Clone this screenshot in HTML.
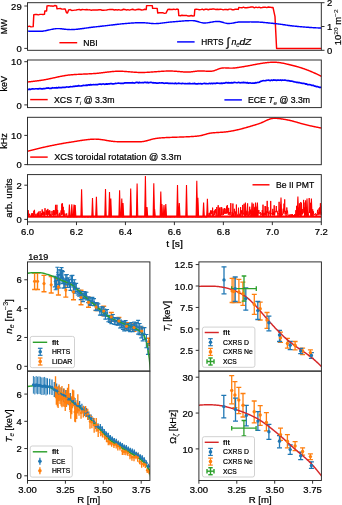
<!DOCTYPE html>
<html><head><meta charset="utf-8"><style>
html,body{margin:0;padding:0;background:#fff;}
svg{display:block;will-change:transform;filter:blur(0.3px);}
text{font-family:"Liberation Sans",sans-serif;fill:#000;stroke:#000;stroke-width:0.22px;}
</style></head><body>
<svg width="342" height="505" viewBox="0 0 342 505">
<rect x="0" y="0" width="342" height="505" fill="#fff"/>
<clipPath id="c1"><rect x="27.5" y="2.7" width="293.8" height="47.6"/></clipPath>
<g clip-path="url(#c1)">
<path d="M27.5,26.6 L29.5,26.2 L31,26.9 L33.2,26.6 L33.8,14.6 L35.33,14.51 L36.86,14.57 L38.39,14.85 L39.91,14.4 L41.44,14.39 L42.97,14.42 L44.5,14.3 L44.8,11 L46.6,11 L47,5.9 L48.6,5.62 L50.2,5.91 L51.8,6.02 L53.4,6.16 L55,5.53 L56.6,5.9 L57,8.8 L58.64,8.64 L60.28,8.47 L61.92,9.14 L63.56,9.05 L65.2,8.9 L66.5,12.8 L67.5,13 L68.6,10 L70.12,9.58 L71.64,10.42 L73.16,10.39 L74.69,10.11 L76.21,10.06 L77.73,9.64 L79.25,9.51 L80.77,9.96 L82.29,9.53 L83.82,9.64 L85.34,9.68 L86.86,9.48 L88.38,9.87 L89.9,9.84 L91.42,10.19 L92.95,9.89 L94.47,9.99 L95.99,9.86 L97.51,10 L99.03,9.8 L100.55,9.64 L102.07,10.28 L103.6,10.27 L105.12,10.12 L106.64,9.99 L108.16,9.63 L109.68,9.54 L111.2,9.59 L112.73,9.39 L114.25,10 L115.77,9.67 L117.29,10.06 L118.81,9.64 L120.33,10.15 L121.85,10.04 L123.38,9.27 L124.9,9.45 L126.42,10.07 L127.94,9.67 L129.46,10.12 L130.98,9.59 L132.51,9.29 L134.03,9.78 L135.55,9.91 L137.07,9.44 L138.59,9.27 L140.11,9.48 L141.64,10.04 L143.16,9.85 L144.68,9.26 L146.2,9.6 L146.6,5.6 L152.3,5.6 L152.6,8.3 L157.2,8.4 L157.7,13 L159.36,12.79 L161.02,12.68 L162.68,12.66 L164.34,13.35 L166,13.1 L167.8,9.5 L169.3,9.2 L170.8,9.52 L172.3,9.41 L173.8,9.16 L175.3,9.64 L176.8,9.08 L178.3,9.4 L178.8,15.6 L180.35,15.74 L181.9,15.27 L183.45,15.56 L185,15.38 L186.55,15.44 L188.1,16.08 L189.65,15.94 L191.2,15.5 L192.75,16.04 L194.3,15.7 L194.8,9.5 L196.3,9.24 L197.8,9.4 L199.3,9.81 L200.8,9.61 L202.3,9.12 L203.8,9.92 L205.3,9.22 L206.8,9.25 L208.3,9.71 L209.8,9.31 L211.3,9.28 L212.8,9.07 L214.3,9.09 L215.8,9.53 L217.3,9.22 L218.8,9.54 L220.3,9.33 L221.8,9.4 L223.3,9.85 L224.8,9.42 L226.3,9.49 L227.8,9.75 L229.3,9.14 L230.8,9.11 L232.3,9.78 L233.8,9.7 L235.3,9.18 L236.8,9.12 L238.3,9.4 L238.8,7.4 L240.35,7.62 L241.91,7.8 L243.46,7.13 L245.02,7.81 L246.57,7.74 L248.13,7.49 L249.68,7.33 L251.24,7.04 L252.79,6.98 L254.35,7.82 L255.9,7.16 L257.45,7.58 L259.01,7.18 L260.56,7.69 L262.12,7.49 L263.67,7.21 L265.23,7.11 L266.78,7.6 L268.34,7.01 L269.89,7.16 L271.45,7.45 L273,7.4 L275,16.7 L276.6,48.5 L322,48.5" fill="none" stroke="#ff0000" stroke-width="1.45" stroke-linejoin="round" stroke-linecap="butt" />
<path d="M27.5,31.1 L28.5,31.14 L29.5,31.18 L30.5,31.21 L31.5,31.24 L32.5,31.26 L33.5,31.27 L34.5,31.28 L35.5,31.29 L36.5,31.3 L37.5,31.3 L38.5,31.3 L39.5,31.3 L40.5,31.29 L41.5,31.25 L42.5,31.16 L43.5,31.03 L44.5,30.88 L45.5,30.7 L46.5,30.5 L47.5,30.28 L48.5,30.06 L49.5,29.84 L50.5,29.62 L51.5,29.4 L52.5,29.2 L53.5,29.02 L54.5,28.87 L55.5,28.74 L56.5,28.65 L57.5,28.61 L58.5,28.61 L59.5,28.64 L60.5,28.71 L61.5,28.81 L62.5,28.92 L63.5,29.04 L64.5,29.16 L65.5,29.28 L66.5,29.39 L67.5,29.49 L68.5,29.56 L69.5,29.59 L70.5,29.6 L71.5,29.58 L72.5,29.55 L73.5,29.5 L74.5,29.43 L75.5,29.36 L76.5,29.27 L77.5,29.17 L78.5,29.06 L79.5,28.95 L80.5,28.82 L81.5,28.69 L82.5,28.56 L83.5,28.42 L84.5,28.28 L85.5,28.13 L86.5,27.99 L87.5,27.85 L88.5,27.7 L89.5,27.56 L90.5,27.43 L91.5,27.3 L92.5,27.18 L93.5,27.06 L94.5,26.95 L95.5,26.85 L96.5,26.75 L97.5,26.64 L98.5,26.54 L99.5,26.43 L100.5,26.32 L101.5,26.2 L102.5,26.09 L103.5,25.97 L104.5,25.86 L105.5,25.74 L106.5,25.62 L107.5,25.5 L108.5,25.38 L109.5,25.26 L110.5,25.14 L111.5,25.02 L112.5,24.91 L113.5,24.79 L114.5,24.67 L115.5,24.56 L116.5,24.44 L117.5,24.33 L118.5,24.22 L119.5,24.11 L120.5,24.01 L121.5,23.9 L122.5,23.8 L123.5,23.7 L124.5,23.61 L125.5,23.52 L126.5,23.43 L127.5,23.35 L128.5,23.27 L129.5,23.19 L130.5,23.12 L131.5,23.06 L132.5,22.99 L133.5,22.94 L134.5,22.89 L135.5,22.84 L136.5,22.8 L137.5,22.77 L138.5,22.74 L139.5,22.72 L140.5,22.71 L141.5,22.7 L142.5,22.7 L143.5,22.73 L144.5,22.79 L145.5,22.86 L146.5,22.95 L147.5,23.05 L148.5,23.15 L149.5,23.25 L150.5,23.35 L151.5,23.44 L152.5,23.51 L153.5,23.57 L154.5,23.6 L155.5,23.6 L156.5,23.57 L157.5,23.52 L158.5,23.44 L159.5,23.35 L160.5,23.25 L161.5,23.13 L162.5,23 L163.5,22.87 L164.5,22.74 L165.5,22.6 L166.5,22.47 L167.5,22.35 L168.5,22.24 L169.5,22.14 L170.5,22.06 L171.5,21.97 L172.5,21.89 L173.5,21.8 L174.5,21.71 L175.5,21.62 L176.5,21.53 L177.5,21.44 L178.5,21.35 L179.5,21.26 L180.5,21.18 L181.5,21.1 L182.5,21.02 L183.5,20.95 L184.5,20.88 L185.5,20.82 L186.5,20.76 L187.5,20.72 L188.5,20.67 L189.5,20.64 L190.5,20.62 L191.5,20.6 L192.5,20.6 L193.5,20.66 L194.5,20.79 L195.5,20.99 L196.5,21.24 L197.5,21.52 L198.5,21.81 L199.5,22.11 L200.5,22.39 L201.5,22.63 L202.5,22.82 L203.5,22.95 L204.5,23 L205.5,22.97 L206.5,22.9 L207.5,22.79 L208.5,22.64 L209.5,22.48 L210.5,22.3 L211.5,22.12 L212.5,21.94 L213.5,21.77 L214.5,21.63 L215.5,21.51 L216.5,21.43 L217.5,21.4 L218.5,21.44 L219.5,21.57 L220.5,21.76 L221.5,22 L222.5,22.28 L223.5,22.56 L224.5,22.84 L225.5,23.09 L226.5,23.3 L227.5,23.44 L228.5,23.5 L229.5,23.47 L230.5,23.39 L231.5,23.27 L232.5,23.11 L233.5,22.92 L234.5,22.73 L235.5,22.54 L236.5,22.36 L237.5,22.21 L238.5,22.09 L239.5,22.02 L240.5,21.99 L241.5,21.98 L242.5,21.97 L243.5,21.96 L244.5,21.95 L245.5,21.94 L246.5,21.93 L247.5,21.92 L248.5,21.91 L249.5,21.91 L250.5,21.9 L251.5,21.9 L252.5,21.9 L253.5,21.9 L254.5,21.91 L255.5,21.93 L256.5,21.96 L257.5,22 L258.5,22.05 L259.5,22.11 L260.5,22.18 L261.5,22.25 L262.5,22.33 L263.5,22.42 L264.5,22.51 L265.5,22.61 L266.5,22.71 L267.5,22.81 L268.5,22.92 L269.5,23.02 L270.5,23.13 L271.5,23.24 L272.5,23.34 L273.5,23.45 L274.5,23.55 L275.5,23.65 L276.5,23.76 L277.5,23.87 L278.5,24 L279.5,24.13 L280.5,24.26 L281.5,24.4 L282.5,24.55 L283.5,24.69 L284.5,24.84 L285.5,24.99 L286.5,25.13 L287.5,25.28 L288.5,25.42 L289.5,25.56 L290.5,25.69 L291.5,25.82 L292.5,25.94 L293.5,26.05 L294.5,26.15 L295.5,26.25 L296.5,26.34 L297.5,26.43 L298.5,26.52 L299.5,26.61 L300.5,26.7 L301.5,26.78 L302.5,26.87 L303.5,26.95 L304.5,27.03 L305.5,27.11 L306.5,27.19 L307.5,27.27 L308.5,27.34 L309.5,27.41 L310.5,27.48 L311.5,27.55 L312.5,27.62 L313.5,27.68 L314.5,27.74 L315.5,27.8 L316.5,27.85 L317.5,27.9 L318.5,27.95 L319.5,28 L320.5,28.04 L321.5,28.08" fill="none" stroke="#0000ff" stroke-width="1.45" stroke-linejoin="round" stroke-linecap="butt" />
</g>
<rect x="27.5" y="2.7" width="293.8" height="47.6" fill="none" stroke="#262626" stroke-width="0.95"/>
<line x1="24.3" y1="6" x2="27.5" y2="6" stroke="#262626" stroke-width="0.95"/>
<text x="21.7" y="9.6" font-size="8.8" text-anchor="end" textLength="10.56" lengthAdjust="spacingAndGlyphs" >29</text>
<line x1="24.3" y1="48.4" x2="27.5" y2="48.4" stroke="#262626" stroke-width="0.95"/>
<text x="21.7" y="52" font-size="8.8" text-anchor="end" textLength="5.28" lengthAdjust="spacingAndGlyphs" >0</text>
<line x1="321.3" y1="2.7" x2="324.5" y2="2.7" stroke="#262626" stroke-width="0.95"/>
<text x="327.1" y="6.3" font-size="8.8" text-anchor="start" textLength="5.28" lengthAdjust="spacingAndGlyphs" >2</text>
<line x1="321.3" y1="26.5" x2="324.5" y2="26.5" stroke="#262626" stroke-width="0.95"/>
<text x="327.1" y="30.1" font-size="8.8" text-anchor="start" textLength="5.28" lengthAdjust="spacingAndGlyphs" >1</text>
<line x1="321.3" y1="50.3" x2="324.5" y2="50.3" stroke="#262626" stroke-width="0.95"/>
<text x="327.1" y="53.9" font-size="8.8" text-anchor="start" textLength="5.28" lengthAdjust="spacingAndGlyphs" >0</text>
<line x1="59.4" y1="42.7" x2="77.2" y2="42.7" stroke="#ff0000" stroke-width="1.45"/>
<text x="83.3" y="46.1" font-size="8.8" text-anchor="start" textLength="14.35" lengthAdjust="spacingAndGlyphs" >NBI</text>
<line x1="177.1" y1="41.9" x2="194.6" y2="41.9" stroke="#0000ff" stroke-width="1.45"/>
<text x="201.2" y="45.2" font-size="8.8" text-anchor="start" textLength="22.35" lengthAdjust="spacingAndGlyphs" >HRTS</text>
<text x="226.6" y="46.4" font-size="11.5" font-style="italic">&#8747;</text>
<text x="231.4" y="45.2" font-size="8.8" font-style="italic">n</text>
<text x="236.2" y="47.2" font-size="6.4" font-style="italic" style="stroke-width:0.05px">e</text>
<text x="239.4" y="45.2" font-size="8.8" font-style="italic" textLength="12" lengthAdjust="spacingAndGlyphs">dZ</text>
<text transform="translate(341.4,27.2) rotate(-90)" x="0" y="0" font-size="8.8" text-anchor="middle" textLength="36" lengthAdjust="spacingAndGlyphs">10<tspan style="stroke-width:0.06px" font-size="6.2" dy="-3.2">20</tspan><tspan dy="3.2"> m</tspan><tspan style="stroke-width:0.06px" font-size="6.2" dy="-3.2">&#8722;2</tspan></text>
<text transform="translate(6.6,26.5) rotate(-90)" x="0" y="0" font-size="8.8" text-anchor="middle" textLength="15.37" lengthAdjust="spacingAndGlyphs">MW</text>
<clipPath id="c2"><rect x="27.5" y="60.0" width="293.8" height="47.6"/></clipPath>
<g clip-path="url(#c2)">
<path d="M27.5,82 L28,81.95 L28.5,81.89 L29,81.84 L29.5,81.79 L30,81.73 L30.5,81.68 L31,81.62 L31.5,81.56 L32,81.51 L32.5,81.45 L33,81.39 L33.5,81.33 L34,81.27 L34.5,81.21 L35,81.15 L35.5,81.09 L36,81.02 L36.5,80.96 L37,80.9 L37.5,80.83 L38,80.76 L38.5,80.7 L39,80.63 L39.5,80.56 L40,80.49 L40.5,80.42 L41,80.34 L41.5,80.27 L42,80.19 L42.5,80.12 L43,80.03 L43.5,79.95 L44,79.87 L44.5,79.78 L45,79.69 L45.5,79.6 L46,79.5 L46.5,79.41 L47,79.31 L47.5,79.21 L48,79.11 L48.5,79.01 L49,78.9 L49.5,78.8 L50,78.69 L50.5,78.58 L51,78.48 L51.5,78.37 L52,78.26 L52.5,78.15 L53,78.04 L53.5,77.92 L54,77.81 L54.5,77.7 L55,77.59 L55.5,77.48 L56,77.37 L56.5,77.26 L57,77.15 L57.5,77.04 L58,76.93 L58.5,76.83 L59,76.72 L59.5,76.62 L60,76.51 L60.5,76.41 L61,76.31 L61.5,76.21 L62,76.12 L62.5,76.02 L63,75.93 L63.5,75.84 L64,75.75 L64.5,75.67 L65,75.58 L65.5,75.5 L66,75.42 L66.5,75.35 L67,75.28 L67.5,75.21 L68,75.15 L68.5,75.08 L69,75.02 L69.5,74.97 L70,74.92 L70.5,74.87 L71,74.82 L71.5,74.78 L72,74.74 L72.5,74.7 L73,74.66 L73.5,74.62 L74,74.59 L74.5,74.55 L75,74.52 L75.5,74.49 L76,74.46 L76.5,74.43 L77,74.4 L77.5,74.38 L78,74.35 L78.5,74.32 L79,74.3 L79.5,74.27 L80,74.25 L80.5,74.23 L81,74.2 L81.5,74.18 L82,74.16 L82.5,74.13 L83,74.11 L83.5,74.09 L84,74.07 L84.5,74.05 L85,74.02 L85.5,74 L86,73.98 L86.5,73.96 L87,73.93 L87.5,73.91 L88,73.89 L88.5,73.86 L89,73.84 L89.5,73.82 L90,73.79 L90.5,73.76 L91,73.74 L91.5,73.71 L92,73.68 L92.5,73.65 L93,73.62 L93.5,73.59 L94,73.56 L94.5,73.52 L95,73.48 L95.5,73.45 L96,73.41 L96.5,73.36 L97,73.32 L97.5,73.27 L98,73.23 L98.5,73.18 L99,73.12 L99.5,73.07 L100,73.01 L100.5,72.96 L101,72.9 L101.5,72.84 L102,72.78 L102.5,72.72 L103,72.65 L103.5,72.59 L104,72.53 L104.5,72.46 L105,72.4 L105.5,72.34 L106,72.27 L106.5,72.21 L107,72.15 L107.5,72.09 L108,72.03 L108.5,71.97 L109,71.91 L109.5,71.85 L110,71.8 L110.5,71.74 L111,71.69 L111.5,71.64 L112,71.59 L112.5,71.55 L113,71.5 L113.5,71.46 L114,71.42 L114.5,71.39 L115,71.36 L115.5,71.33 L116,71.3 L116.5,71.28 L117,71.27 L117.5,71.25 L118,71.24 L118.5,71.23 L119,71.23 L119.5,71.23 L120,71.24 L120.5,71.24 L121,71.26 L121.5,71.27 L122,71.29 L122.5,71.31 L123,71.33 L123.5,71.36 L124,71.39 L124.5,71.42 L125,71.45 L125.5,71.49 L126,71.52 L126.5,71.56 L127,71.6 L127.5,71.64 L128,71.68 L128.5,71.72 L129,71.76 L129.5,71.81 L130,71.85 L130.5,71.89 L131,71.94 L131.5,71.98 L132,72.02 L132.5,72.06 L133,72.1 L133.5,72.14 L134,72.18 L134.5,72.21 L135,72.25 L135.5,72.28 L136,72.31 L136.5,72.34 L137,72.37 L137.5,72.39 L138,72.41 L138.5,72.43 L139,72.44 L139.5,72.46 L140,72.47 L140.5,72.47 L141,72.48 L141.5,72.48 L142,72.47 L142.5,72.47 L143,72.46 L143.5,72.45 L144,72.44 L144.5,72.42 L145,72.41 L145.5,72.39 L146,72.37 L146.5,72.35 L147,72.32 L147.5,72.3 L148,72.27 L148.5,72.24 L149,72.21 L149.5,72.18 L150,72.15 L150.5,72.12 L151,72.08 L151.5,72.05 L152,72.01 L152.5,71.98 L153,71.94 L153.5,71.9 L154,71.86 L154.5,71.83 L155,71.79 L155.5,71.75 L156,71.71 L156.5,71.67 L157,71.64 L157.5,71.6 L158,71.56 L158.5,71.52 L159,71.49 L159.5,71.45 L160,71.42 L160.5,71.38 L161,71.35 L161.5,71.32 L162,71.29 L162.5,71.26 L163,71.23 L163.5,71.2 L164,71.18 L164.5,71.15 L165,71.13 L165.5,71.11 L166,71.09 L166.5,71.08 L167,71.06 L167.5,71.05 L168,71.04 L168.5,71.03 L169,71.03 L169.5,71.03 L170,71.03 L170.5,71.03 L171,71.04 L171.5,71.05 L172,71.07 L172.5,71.09 L173,71.11 L173.5,71.13 L174,71.16 L174.5,71.19 L175,71.23 L175.5,71.26 L176,71.3 L176.5,71.34 L177,71.38 L177.5,71.42 L178,71.46 L178.5,71.51 L179,71.55 L179.5,71.59 L180,71.64 L180.5,71.68 L181,71.72 L181.5,71.76 L182,71.8 L182.5,71.84 L183,71.87 L183.5,71.91 L184,71.94 L184.5,71.97 L185,71.99 L185.5,72.01 L186,72.03 L186.5,72.04 L187,72.05 L187.5,72.05 L188,72.04 L188.5,72.03 L189,72.01 L189.5,71.98 L190,71.95 L190.5,71.91 L191,71.86 L191.5,71.81 L192,71.76 L192.5,71.7 L193,71.63 L193.5,71.57 L194,71.5 L194.5,71.43 L195,71.37 L195.5,71.3 L196,71.24 L196.5,71.19 L197,71.14 L197.5,71.09 L198,71.05 L198.5,71.02 L199,70.99 L199.5,70.97 L200,70.96 L200.5,70.96 L201,70.96 L201.5,70.96 L202,70.98 L202.5,70.99 L203,71.01 L203.5,71.04 L204,71.06 L204.5,71.09 L205,71.12 L205.5,71.15 L206,71.18 L206.5,71.21 L207,71.24 L207.5,71.26 L208,71.28 L208.5,71.3 L209,71.31 L209.5,71.31 L210,71.31 L210.5,71.29 L211,71.26 L211.5,71.21 L212,71.14 L212.5,71.06 L213,70.96 L213.5,70.83 L214,70.69 L214.5,70.54 L215,70.37 L215.5,70.19 L216,70 L216.5,69.8 L217,69.6 L217.5,69.4 L218,69.2 L218.5,69.01 L219,68.83 L219.5,68.66 L220,68.51 L220.5,68.37 L221,68.24 L221.5,68.14 L222,68.06 L222.5,67.99 L223,67.95 L223.5,67.91 L224,67.9 L224.5,67.89 L225,67.9 L225.5,67.91 L226,67.93 L226.5,67.95 L227,67.97 L227.5,68 L228,68.03 L228.5,68.05 L229,68.08 L229.5,68.1 L230,68.11 L230.5,68.13 L231,68.13 L231.5,68.14 L232,68.13 L232.5,68.11 L233,68.09 L233.5,68.06 L234,68.02 L234.5,67.98 L235,67.92 L235.5,67.86 L236,67.8 L236.5,67.73 L237,67.66 L237.5,67.59 L238,67.51 L238.5,67.43 L239,67.36 L239.5,67.28 L240,67.21 L240.5,67.13 L241,67.06 L241.5,66.98 L242,66.9 L242.5,66.82 L243,66.74 L243.5,66.66 L244,66.58 L244.5,66.5 L245,66.41 L245.5,66.32 L246,66.24 L246.5,66.15 L247,66.06 L247.5,65.96 L248,65.87 L248.5,65.78 L249,65.68 L249.5,65.59 L250,65.49 L250.5,65.39 L251,65.3 L251.5,65.2 L252,65.1 L252.5,65.01 L253,64.91 L253.5,64.81 L254,64.71 L254.5,64.62 L255,64.52 L255.5,64.43 L256,64.33 L256.5,64.24 L257,64.14 L257.5,64.05 L258,63.96 L258.5,63.87 L259,63.78 L259.5,63.69 L260,63.61 L260.5,63.52 L261,63.44 L261.5,63.36 L262,63.28 L262.5,63.2 L263,63.13 L263.5,63.06 L264,62.99 L264.5,62.92 L265,62.85 L265.5,62.79 L266,62.73 L266.5,62.67 L267,62.62 L267.5,62.57 L268,62.52 L268.5,62.48 L269,62.44 L269.5,62.4 L270,62.37 L270.5,62.34 L271,62.31 L271.5,62.29 L272,62.27 L272.5,62.26 L273,62.25 L273.5,62.24 L274,62.24 L274.5,62.25 L275,62.26 L275.5,62.28 L276,62.31 L276.5,62.34 L277,62.37 L277.5,62.41 L278,62.46 L278.5,62.52 L279,62.57 L279.5,62.64 L280,62.71 L280.5,62.78 L281,62.86 L281.5,62.94 L282,63.03 L282.5,63.12 L283,63.21 L283.5,63.31 L284,63.41 L284.5,63.52 L285,63.62 L285.5,63.73 L286,63.85 L286.5,63.96 L287,64.08 L287.5,64.2 L288,64.31 L288.5,64.44 L289,64.56 L289.5,64.68 L290,64.8 L290.5,64.93 L291,65.05 L291.5,65.18 L292,65.3 L292.5,65.43 L293,65.55 L293.5,65.68 L294,65.81 L294.5,65.93 L295,66.06 L295.5,66.19 L296,66.32 L296.5,66.46 L297,66.59 L297.5,66.73 L298,66.88 L298.5,67.02 L299,67.17 L299.5,67.32 L300,67.47 L300.5,67.63 L301,67.78 L301.5,67.95 L302,68.11 L302.5,68.28 L303,68.45 L303.5,68.62 L304,68.79 L304.5,68.97 L305,69.15 L305.5,69.33 L306,69.52 L306.5,69.7 L307,69.89 L307.5,70.09 L308,70.28 L308.5,70.48 L309,70.68 L309.5,70.88 L310,71.08 L310.5,71.29 L311,71.5 L311.5,71.71 L312,71.92 L312.5,72.14 L313,72.36 L313.5,72.58 L314,72.8 L314.5,73.02 L315,73.25 L315.5,73.48 L316,73.71 L316.5,73.94 L317,74.17 L317.5,74.41 L318,74.65 L318.5,74.88 L319,75.13 L319.5,75.37 L320,75.61 L320.5,75.86 L321,76.11 L321.5,76.35 L322,76.6" fill="none" stroke="#ff0000" stroke-width="1.45" stroke-linejoin="round" stroke-linecap="butt" />
<path d="M27.5,89.61 L28.5,89.42 L29.5,89.17 L30.5,89.51 L31.5,89.03 L32.5,88.87 L33.5,88.97 L34.5,89.02 L35.5,88.74 L36.5,88.75 L37.5,88.81 L38.5,88.88 L39.5,88.56 L40.5,88.64 L41.5,88.9 L42.5,88.9 L43.5,88.65 L44.5,88.61 L45.5,88.48 L46.5,88.16 L47.5,88.03 L48.5,87.96 L49.5,88.43 L50.5,88.25 L51.5,88.34 L52.5,87.71 L53.5,88.02 L54.5,87.86 L55.5,87.94 L56.5,87.63 L57.5,87.97 L58.5,87.35 L59.5,87.56 L60.5,87.61 L61.5,87.63 L62.5,87.46 L63.5,87.36 L64.5,87.34 L65.5,87.33 L66.5,86.91 L67.5,87.02 L68.5,87.06 L69.5,86.96 L70.5,86.59 L71.5,86.73 L72.5,86.68 L73.5,86.41 L74.5,86.35 L75.5,86.11 L76.5,86.13 L77.5,86.06 L78.5,85.65 L79.5,85.89 L80.5,86.01 L81.5,85.85 L82.5,85.67 L83.5,85.38 L84.5,85.5 L85.5,85.32 L86.5,85.15 L87.5,85.31 L88.5,84.78 L89.5,85.11 L90.5,84.6 L91.5,84.88 L92.5,84.74 L93.5,84.52 L94.5,84.75 L95.5,84.57 L96.5,84.59 L97.5,84.71 L98.5,84.26 L99.5,84.06 L100.5,84.18 L101.5,84.35 L102.5,84 L103.5,83.93 L104.5,84.31 L105.5,84.11 L106.5,83.92 L107.5,84.14 L108.5,83.75 L109.5,83.89 L110.5,83.56 L111.5,83.65 L112.5,83.82 L113.5,83.83 L114.5,83.76 L115.5,83.41 L116.5,83.48 L117.5,83.27 L118.5,83.12 L119.5,83.28 L120.5,83.44 L121.5,83.41 L122.5,83.28 L123.5,83.38 L124.5,82.93 L125.5,82.83 L126.5,82.96 L127.5,82.82 L128.5,82.75 L129.5,82.83 L130.5,82.93 L131.5,82.82 L132.5,82.68 L133.5,82.97 L134.5,83.03 L135.5,82.69 L136.5,82.44 L137.5,82.39 L138.5,82.88 L139.5,82.37 L140.5,82.75 L141.5,82.66 L142.5,82.5 L143.5,82.78 L144.5,82.31 L145.5,82.38 L146.5,82.58 L147.5,82.33 L148.5,82.82 L149.5,82.49 L150.5,82.45 L151.5,82.42 L152.5,82.8 L153.5,82.72 L154.5,82.87 L155.5,82.92 L156.5,83.05 L157.5,83.18 L158.5,83.05 L159.5,82.8 L160.5,83 L161.5,82.86 L162.5,82.8 L163.5,83.11 L164.5,83.29 L165.5,83 L166.5,83.09 L167.5,83.16 L168.5,83.39 L169.5,83.3 L170.5,83.38 L171.5,83.47 L172.5,83.27 L173.5,83.52 L174.5,83.6 L175.5,83.13 L176.5,83.65 L177.5,83.53 L178.5,83.19 L179.5,83.4 L180.5,83.51 L181.5,83.69 L182.5,83.38 L183.5,83.51 L184.5,83.71 L185.5,83.67 L186.5,83.77 L187.5,83.49 L188.5,83.61 L189.5,83.35 L190.5,83.67 L191.5,83.74 L192.5,83.64 L193.5,83.69 L194.5,83.39 L195.5,83.81 L196.5,83.87 L197.5,83.87 L198.5,83.61 L199.5,83.76 L200.5,83.49 L201.5,83.84 L202.5,83.81 L203.5,83.51 L204.5,83.35 L205.5,83.56 L206.5,83.62 L207.5,83.74 L208.5,83.56 L209.5,83.27 L210.5,83.71 L211.5,83.24 L212.5,83.65 L213.5,83.24 L214.5,83.3 L215.5,83.54 L216.5,83.11 L217.5,83.07 L218.5,83.25 L219.5,83.32 L220.5,83.35 L221.5,83.21 L222.5,83.32 L223.5,83 L224.5,83.23 L225.5,82.66 L226.5,82.7 L227.5,82.84 L228.5,82.65 L229.5,82.87 L230.5,82.78 L231.5,82.68 L232.5,82.84 L233.5,82.64 L234.5,82.46 L235.5,82.48 L236.5,82.74 L237.5,82.76 L238.5,82.33 L239.5,82.71 L240.5,82.78 L241.5,82.53 L242.5,82.6 L243.5,82.42 L244.5,82.67 L245.5,82.71 L246.5,82.84 L247.5,82.56 L248.5,83.18 L249.5,82.97 L250.5,82.95 L251.5,83.24 L252.5,83.12 L253.5,83.09 L254.5,83.19 L255.5,82.7 L256.5,82.8 L257.5,82.47 L258.5,82.51 L259.5,82.17 L260.5,81.45 L261.5,81.26 L262.5,80.76 L263.5,80.69 L264.5,80.73 L265.5,80.66 L266.5,80.37 L267.5,80.26 L268.5,80.16 L269.5,80.39 L270.5,80.56 L271.5,80.06 L272.5,80.44 L273.5,79.97 L274.5,80.06 L275.5,80.07 L276.5,80.34 L277.5,80.11 L278.5,80.12 L279.5,80.28 L280.5,79.96 L281.5,80.34 L282.5,79.98 L283.5,80.24 L284.5,80.14 L285.5,80.19 L286.5,80.49 L287.5,80.56 L288.5,80.66 L289.5,80.83 L290.5,81.07 L291.5,81.02 L292.5,81.22 L293.5,81.66 L294.5,81.85 L295.5,81.97 L296.5,82.34 L297.5,82.37 L298.5,82.68 L299.5,82.49 L300.5,82.97 L301.5,83.2 L302.5,83.45 L303.5,83.3 L304.5,83.5 L305.5,84.08 L306.5,83.87 L307.5,84.56 L308.5,84.71 L309.5,84.49 L310.5,84.79 L311.5,85.32 L312.5,85.29 L313.5,85.44 L314.5,86.14 L315.5,86.15 L316.5,86.64 L317.5,86.51 L318.5,86.95 L319.5,87.39 L320.5,87.28 L321.5,87.68" fill="none" stroke="#0000ff" stroke-width="1.7" stroke-linejoin="round" stroke-linecap="butt" />
</g>
<rect x="27.5" y="60.0" width="293.8" height="47.6" fill="none" stroke="#262626" stroke-width="0.95"/>
<line x1="24.3" y1="61.7" x2="27.5" y2="61.7" stroke="#262626" stroke-width="0.95"/>
<text x="21.7" y="65.3" font-size="8.8" text-anchor="end" textLength="10.56" lengthAdjust="spacingAndGlyphs" >10</text>
<line x1="24.3" y1="104.9" x2="27.5" y2="104.9" stroke="#262626" stroke-width="0.95"/>
<text x="21.7" y="108.5" font-size="8.8" text-anchor="end" textLength="5.28" lengthAdjust="spacingAndGlyphs" >0</text>
<line x1="30.2" y1="99.6" x2="47.7" y2="99.6" stroke="#ff0000" stroke-width="1.45"/>
<text x="54.0" y="103.3" font-size="8.8" textLength="60.5" lengthAdjust="spacingAndGlyphs">XCS <tspan font-style="italic">T</tspan><tspan style="stroke-width:0.06px" font-size="6.2" dy="1.8" font-style="italic">i</tspan><tspan dy="-1.8"> @ 3.3m</tspan></text>
<line x1="224.4" y1="99.9" x2="241.9" y2="99.9" stroke="#0000ff" stroke-width="1.45"/>
<text x="248.0" y="103.3" font-size="8.8" textLength="62" lengthAdjust="spacingAndGlyphs">ECE <tspan font-style="italic">T</tspan><tspan style="stroke-width:0.06px" font-size="6.2" dy="1.8" font-style="italic">e</tspan><tspan dy="-1.8"> @ 3.3m</tspan></text>
<text transform="translate(6.6,83.8) rotate(-90)" x="0" y="0" font-size="8.8" text-anchor="middle" textLength="15.59" lengthAdjust="spacingAndGlyphs">keV</text>
<clipPath id="c3"><rect x="27.5" y="117.3" width="293.8" height="47.4"/></clipPath>
<g clip-path="url(#c3)">
<path d="M27.5,151.3 L28,151.17 L28.5,151.04 L29,150.9 L29.5,150.77 L30,150.64 L30.5,150.51 L31,150.38 L31.5,150.25 L32,150.12 L32.5,149.99 L33,149.86 L33.5,149.74 L34,149.61 L34.5,149.49 L35,149.36 L35.5,149.24 L36,149.11 L36.5,148.99 L37,148.87 L37.5,148.74 L38,148.62 L38.5,148.5 L39,148.38 L39.5,148.26 L40,148.14 L40.5,148.03 L41,147.91 L41.5,147.79 L42,147.67 L42.5,147.56 L43,147.44 L43.5,147.33 L44,147.22 L44.5,147.1 L45,146.99 L45.5,146.88 L46,146.77 L46.5,146.66 L47,146.55 L47.5,146.44 L48,146.33 L48.5,146.23 L49,146.12 L49.5,146.01 L50,145.91 L50.5,145.8 L51,145.7 L51.5,145.59 L52,145.49 L52.5,145.39 L53,145.29 L53.5,145.19 L54,145.09 L54.5,144.99 L55,144.89 L55.5,144.79 L56,144.69 L56.5,144.6 L57,144.5 L57.5,144.41 L58,144.31 L58.5,144.22 L59,144.13 L59.5,144.03 L60,143.94 L60.5,143.85 L61,143.76 L61.5,143.67 L62,143.58 L62.5,143.49 L63,143.41 L63.5,143.32 L64,143.23 L64.5,143.15 L65,143.06 L65.5,142.98 L66,142.9 L66.5,142.81 L67,142.73 L67.5,142.65 L68,142.57 L68.5,142.49 L69,142.41 L69.5,142.33 L70,142.26 L70.5,142.18 L71,142.1 L71.5,142.02 L72,141.94 L72.5,141.86 L73,141.78 L73.5,141.7 L74,141.62 L74.5,141.54 L75,141.46 L75.5,141.38 L76,141.3 L76.5,141.22 L77,141.13 L77.5,141.05 L78,140.97 L78.5,140.89 L79,140.81 L79.5,140.73 L80,140.65 L80.5,140.57 L81,140.49 L81.5,140.42 L82,140.34 L82.5,140.26 L83,140.19 L83.5,140.12 L84,140.05 L84.5,139.98 L85,139.91 L85.5,139.85 L86,139.79 L86.5,139.73 L87,139.67 L87.5,139.61 L88,139.56 L88.5,139.51 L89,139.46 L89.5,139.41 L90,139.37 L90.5,139.33 L91,139.3 L91.5,139.26 L92,139.23 L92.5,139.21 L93,139.19 L93.5,139.17 L94,139.16 L94.5,139.15 L95,139.14 L95.5,139.15 L96,139.15 L96.5,139.16 L97,139.18 L97.5,139.21 L98,139.24 L98.5,139.27 L99,139.32 L99.5,139.36 L100,139.42 L100.5,139.48 L101,139.54 L101.5,139.6 L102,139.67 L102.5,139.75 L103,139.82 L103.5,139.9 L104,139.99 L104.5,140.07 L105,140.15 L105.5,140.24 L106,140.33 L106.5,140.41 L107,140.5 L107.5,140.59 L108,140.67 L108.5,140.76 L109,140.84 L109.5,140.92 L110,141 L110.5,141.07 L111,141.15 L111.5,141.22 L112,141.28 L112.5,141.34 L113,141.4 L113.5,141.45 L114,141.5 L114.5,141.54 L115,141.58 L115.5,141.61 L116,141.63 L116.5,141.65 L117,141.67 L117.5,141.68 L118,141.7 L118.5,141.7 L119,141.71 L119.5,141.72 L120,141.72 L120.5,141.73 L121,141.73 L121.5,141.73 L122,141.74 L122.5,141.74 L123,141.74 L123.5,141.75 L124,141.75 L124.5,141.75 L125,141.76 L125.5,141.76 L126,141.76 L126.5,141.76 L127,141.77 L127.5,141.77 L128,141.77 L128.5,141.77 L129,141.78 L129.5,141.78 L130,141.78 L130.5,141.78 L131,141.78 L131.5,141.78 L132,141.79 L132.5,141.79 L133,141.79 L133.5,141.79 L134,141.79 L134.5,141.79 L135,141.79 L135.5,141.79 L136,141.8 L136.5,141.8 L137,141.8 L137.5,141.79 L138,141.79 L138.5,141.79 L139,141.78 L139.5,141.77 L140,141.76 L140.5,141.74 L141,141.71 L141.5,141.67 L142,141.63 L142.5,141.58 L143,141.51 L143.5,141.44 L144,141.35 L144.5,141.26 L145,141.16 L145.5,141.05 L146,140.93 L146.5,140.81 L147,140.68 L147.5,140.55 L148,140.41 L148.5,140.27 L149,140.13 L149.5,139.98 L150,139.84 L150.5,139.7 L151,139.56 L151.5,139.42 L152,139.29 L152.5,139.16 L153,139.03 L153.5,138.91 L154,138.8 L154.5,138.69 L155,138.59 L155.5,138.5 L156,138.42 L156.5,138.35 L157,138.28 L157.5,138.22 L158,138.16 L158.5,138.11 L159,138.06 L159.5,138.02 L160,137.98 L160.5,137.94 L161,137.9 L161.5,137.86 L162,137.83 L162.5,137.79 L163,137.76 L163.5,137.73 L164,137.7 L164.5,137.67 L165,137.64 L165.5,137.62 L166,137.59 L166.5,137.56 L167,137.54 L167.5,137.52 L168,137.49 L168.5,137.47 L169,137.45 L169.5,137.43 L170,137.41 L170.5,137.39 L171,137.37 L171.5,137.35 L172,137.33 L172.5,137.31 L173,137.29 L173.5,137.28 L174,137.26 L174.5,137.24 L175,137.22 L175.5,137.21 L176,137.19 L176.5,137.18 L177,137.16 L177.5,137.14 L178,137.13 L178.5,137.11 L179,137.1 L179.5,137.08 L180,137.06 L180.5,137.05 L181,137.03 L181.5,137.01 L182,136.99 L182.5,136.98 L183,136.96 L183.5,136.94 L184,136.92 L184.5,136.9 L185,136.88 L185.5,136.86 L186,136.84 L186.5,136.82 L187,136.79 L187.5,136.77 L188,136.75 L188.5,136.72 L189,136.7 L189.5,136.67 L190,136.64 L190.5,136.62 L191,136.59 L191.5,136.56 L192,136.53 L192.5,136.49 L193,136.46 L193.5,136.42 L194,136.39 L194.5,136.35 L195,136.31 L195.5,136.27 L196,136.23 L196.5,136.18 L197,136.14 L197.5,136.08 L198,136.03 L198.5,135.96 L199,135.89 L199.5,135.82 L200,135.73 L200.5,135.64 L201,135.53 L201.5,135.42 L202,135.3 L202.5,135.18 L203,135.04 L203.5,134.91 L204,134.76 L204.5,134.62 L205,134.47 L205.5,134.33 L206,134.19 L206.5,134.04 L207,133.91 L207.5,133.78 L208,133.65 L208.5,133.53 L209,133.42 L209.5,133.32 L210,133.23 L210.5,133.14 L211,133.07 L211.5,133 L212,132.94 L212.5,132.88 L213,132.83 L213.5,132.79 L214,132.75 L214.5,132.71 L215,132.67 L215.5,132.64 L216,132.61 L216.5,132.57 L217,132.54 L217.5,132.51 L218,132.49 L218.5,132.46 L219,132.43 L219.5,132.4 L220,132.37 L220.5,132.34 L221,132.3 L221.5,132.27 L222,132.24 L222.5,132.2 L223,132.16 L223.5,132.12 L224,132.07 L224.5,132.03 L225,131.98 L225.5,131.92 L226,131.87 L226.5,131.81 L227,131.74 L227.5,131.68 L228,131.61 L228.5,131.54 L229,131.47 L229.5,131.39 L230,131.31 L230.5,131.23 L231,131.14 L231.5,131.05 L232,130.96 L232.5,130.87 L233,130.78 L233.5,130.68 L234,130.58 L234.5,130.48 L235,130.37 L235.5,130.26 L236,130.15 L236.5,130.04 L237,129.93 L237.5,129.82 L238,129.7 L238.5,129.58 L239,129.46 L239.5,129.34 L240,129.21 L240.5,129.09 L241,128.96 L241.5,128.83 L242,128.7 L242.5,128.57 L243,128.43 L243.5,128.3 L244,128.16 L244.5,128.02 L245,127.88 L245.5,127.75 L246,127.6 L246.5,127.46 L247,127.32 L247.5,127.18 L248,127.03 L248.5,126.89 L249,126.74 L249.5,126.59 L250,126.45 L250.5,126.3 L251,126.15 L251.5,126 L252,125.85 L252.5,125.7 L253,125.55 L253.5,125.4 L254,125.25 L254.5,125.1 L255,124.95 L255.5,124.79 L256,124.64 L256.5,124.49 L257,124.33 L257.5,124.18 L258,124.01 L258.5,123.85 L259,123.68 L259.5,123.5 L260,123.32 L260.5,123.12 L261,122.93 L261.5,122.72 L262,122.5 L262.5,122.28 L263,122.06 L263.5,121.83 L264,121.59 L264.5,121.36 L265,121.12 L265.5,120.88 L266,120.65 L266.5,120.42 L267,120.2 L267.5,119.98 L268,119.77 L268.5,119.57 L269,119.39 L269.5,119.21 L270,119.05 L270.5,118.9 L271,118.76 L271.5,118.65 L272,118.55 L272.5,118.47 L273,118.4 L273.5,118.35 L274,118.32 L274.5,118.3 L275,118.3 L275.5,118.31 L276,118.32 L276.5,118.35 L277,118.38 L277.5,118.42 L278,118.47 L278.5,118.52 L279,118.58 L279.5,118.64 L280,118.7 L280.5,118.77 L281,118.84 L281.5,118.91 L282,118.99 L282.5,119.07 L283,119.14 L283.5,119.23 L284,119.31 L284.5,119.39 L285,119.47 L285.5,119.56 L286,119.65 L286.5,119.74 L287,119.83 L287.5,119.92 L288,120.02 L288.5,120.12 L289,120.22 L289.5,120.33 L290,120.44 L290.5,120.56 L291,120.67 L291.5,120.8 L292,120.92 L292.5,121.05 L293,121.18 L293.5,121.32 L294,121.45 L294.5,121.59 L295,121.73 L295.5,121.87 L296,122.01 L296.5,122.16 L297,122.3 L297.5,122.45 L298,122.59 L298.5,122.74 L299,122.88 L299.5,123.03 L300,123.17 L300.5,123.32 L301,123.46 L301.5,123.6 L302,123.74 L302.5,123.88 L303,124.02 L303.5,124.15 L304,124.28 L304.5,124.41 L305,124.54 L305.5,124.66 L306,124.79 L306.5,124.91 L307,125.03 L307.5,125.14 L308,125.26 L308.5,125.38 L309,125.49 L309.5,125.6 L310,125.71 L310.5,125.83 L311,125.94 L311.5,126.05 L312,126.15 L312.5,126.26 L313,126.37 L313.5,126.48 L314,126.58 L314.5,126.69 L315,126.79 L315.5,126.9 L316,127 L316.5,127.11 L317,127.21 L317.5,127.31 L318,127.41 L318.5,127.51 L319,127.61 L319.5,127.71 L320,127.81 L320.5,127.91 L321,128.01 L321.5,128.1 L322,128.2" fill="none" stroke="#ff0000" stroke-width="1.45" stroke-linejoin="round" stroke-linecap="butt" />
</g>
<rect x="27.5" y="117.3" width="293.8" height="47.4" fill="none" stroke="#262626" stroke-width="0.95"/>
<line x1="24.3" y1="135.4" x2="27.5" y2="135.4" stroke="#262626" stroke-width="0.95"/>
<text x="21.7" y="139" font-size="8.8" text-anchor="end" textLength="10.56" lengthAdjust="spacingAndGlyphs" >10</text>
<line x1="24.3" y1="164.6" x2="27.5" y2="164.6" stroke="#262626" stroke-width="0.95"/>
<text x="21.7" y="168.2" font-size="8.8" text-anchor="end" textLength="5.28" lengthAdjust="spacingAndGlyphs" >0</text>
<line x1="30.2" y1="157.1" x2="47.7" y2="157.1" stroke="#ff0000" stroke-width="1.45"/>
<text x="54.2" y="160.2" font-size="8.8" text-anchor="start" textLength="127.2" lengthAdjust="spacingAndGlyphs" >XCS toroidal rotatation @ 3.3m</text>
<text transform="translate(6.6,141) rotate(-90)" x="0" y="0" font-size="8.8" text-anchor="middle" textLength="15.4" lengthAdjust="spacingAndGlyphs">kHz</text>
<clipPath id="c4"><rect x="27.5" y="174.6" width="293.8" height="47.3"/></clipPath>
<g clip-path="url(#c4)">
<path d="M27.5,212.63 L27.85,215.09 L28.2,210.2 L28.55,216.75 L28.9,213.86 L29.25,215.37 L29.6,213.84 L29.95,215.51 L30.3,215.83 L30.65,216.84 L31,216.24 L31.35,216.92 L31.7,213.36 L32.05,215.84 L32.4,213.19 L32.75,216.67 L33.1,215.8 L33.45,216.53 L33.8,210.76 L34.15,214.7 L34.5,209.87 L34.85,216.78 L35.2,216.41 L35.55,214.74 L35.9,213.83 L36.25,215.16 L36.6,214.8 L36.95,215.87 L37.3,213.34 L37.65,215.95 L38,212.57 L38.35,216.97 L38.7,211.62 L39.05,214.89 L39.4,215.7 L39.75,215.85 L40.1,211.15 L40.45,215.97 L40.8,215.59 L41.15,216.58 L41.5,213.15 L41.85,216.96 L42.2,209.43 L42.55,214.9 L42.9,211.3 L43.25,214.73 L43.6,211.98 L43.95,215.92 L44.3,212.22 L44.65,215.65 L45,208.2 L45.35,214.83 L45.7,215.06 L46.05,214.52 L46.4,210.66 L46.75,214.87 L47.1,209.87 L47.45,215.88 L47.8,208.91 L48.15,214.55 L48.5,211.04 L48.85,214.85 L49.2,210.24 L49.55,215.85 L49.9,210.65 L50.25,216.8 L50.6,214.21 L50.95,215.62 L51.3,216.54 L51.65,215.92 L52,210.95 L52.35,215.03 L52.7,214.91 L53.05,213.93 L53.4,210.21 L53.75,215.86 L54.1,210.08 L54.45,215.03 L54.8,211.45 L55.15,215.61 L55.5,204.86 L55.85,214.66 L56.2,209.04 L56.55,214.18 L56.9,204.77 L57.25,216.91 L57.6,209.97 L57.95,214.18 L58.3,214.25 L58.65,215.44 L59,216.12 L59.35,216.23 L59.7,212.8 L60.05,216.61 L60.4,214.18 L60.75,213.32 L61.1,210.36 L61.45,214.91 L61.8,203.63 L62.15,214.62 L62.5,203.42 L62.85,214.38 L63.2,206.86 L63.55,216.7 L63.9,210.22 L64.25,214.1 L64.6,216.21 L64.95,213.58 L65.3,215.36 L65.65,215.33 L66,215.35 L66.35,215.32 L66.7,213.39 L67.05,216.88 L67.4,217.18 L68.4,216.97 L69.4,217.01 L70.4,217.04 L71.4,216.95 L72.4,216.91 L73.4,217.06 L74.4,217.02 L75.4,216.91 L76.4,217.09 L77.4,216.92 L78.4,216.81 L79.4,216.9 L80.4,216.82 L81.4,216.86 L82.4,217.1 L83.4,216.96 L84.4,217.16 L85.4,217.1 L86.4,216.82 L87.4,217.2 L88.4,217.18 L89.4,216.83 L90.4,217.16 L91.4,216.97 L92.4,216.99 L93.4,217.19 L94.4,216.9 L95.4,217.01 L96.4,217.17 L97.4,217.09 L98.4,216.99 L99.4,217.19 L100.4,217.13 L101.4,217.04 L102.4,216.85 L103.4,217.05 L104.4,216.98 L105.4,216.88 L106.4,216.82 L107.4,217.01 L108.4,216.85 L109.4,216.98 L110.4,217.07 L111.4,216.98 L112.4,216.9 L113.4,217.03 L114.4,216.97 L115.4,217.11 L116.4,217.01 L117.4,217.2 L118.4,217.18 L119.4,217.09 L120.4,216.9 L121.4,216.85 L122.4,217.16 L123.4,217.11 L124.4,217.05 L125.4,216.94 L126.4,216.91 L127.4,217.07 L128.4,217.03 L129.4,217.04 L130.4,217.05 L131.4,217.1 L132.4,216.88 L133.4,216.9 L134.4,217.19 L135.4,217.17 L136.4,217.15 L137.4,216.82 L138.4,216.82 L139.4,216.91 L140.4,216.97 L141.4,217.05 L142.4,216.84 L143.4,217.02 L144.4,216.83 L145.4,216.83 L146.4,217.07 L147.4,217.02 L148.4,217.05 L149.4,216.95 L150.4,216.99 L151.4,216.88 L152.4,216.94 L153.4,217.1 L154.4,217.14 L155.4,216.83 L156.4,216.85 L157.4,217.12 L158.4,217.05 L159.4,217.11 L160.4,216.89 L161.4,216.97 L162.4,216.9 L163.4,217.12 L164.4,216.95 L165.4,217.06 L166.4,217.2 L167.4,216.93 L168.4,217.02 L169.4,217.1 L170.4,217.17 L171.4,216.97 L172.4,216.95 L173.4,216.84 L174.4,217.15 L175.4,216.83 L176.4,216.83 L177.4,217.03 L178.4,216.99 L179.4,217.07 L180.4,216.92 L181.4,217.11 L182.4,216.83 L183.4,216.89 L184.4,217.06 L185.4,216.83 L186.4,216.92 L187.4,217.09 L188.4,217.08 L189.4,216.91 L190.4,216.86 L191.4,216.94 L192.4,217.09 L193.4,216.95 L194.4,216.85 L195.4,217.08 L196.4,217.03 L197.4,217.17 L198.4,217.18 L199.4,217.17 L200.4,216.98 L201.4,217.12 L202.4,216.92 L203.4,216.93 L204.4,216.96 L205.4,217.17 L206.4,217.16 L207.4,216.9 L208.4,215.43 L208.75,216.43 L209.1,213.05 L209.45,215.46 L209.8,212.75 L210.15,216.24 L210.5,210.5 L210.85,213.87 L211.2,210.79 L211.55,213.71 L211.9,210.48 L212.25,216.3 L212.6,207.65 L212.95,213.52 L213.3,213.92 L213.65,216.91 L214,211.06 L214.35,214.84 L214.7,210.35 L215.05,213.15 L215.4,209.15 L215.75,213.79 L216.1,216 L216.45,214.81 L216.8,207.06 L217.15,216.66 L217.5,215.85 L217.85,214.04 L218.2,205.24 L218.55,216.66 L218.9,209.3 L219.25,216.42 L219.6,207.61 L219.95,214.37 L220.3,214.24 L220.65,216.1 L221,207.26 L221.35,214.88 L221.7,207.25 L222.05,215.39 L222.4,213.17 L222.75,213.04 L223.1,208.62 L223.45,214.98 L223.8,210.55 L224.15,214.04 L224.5,208.03 L224.85,213.23 L225.2,212.22 L225.55,213.59 L225.9,208.62 L226.25,213.47 L226.6,206.42 L226.95,213.54 L227.3,205.03 L227.65,213.01 L228,208.96 L228.35,214.81 L228.7,207.87 L229.05,213.65 L229.4,212.01 L229.75,215.24 L230.1,215.19 L230.45,213.89 L230.8,203.16 L231.15,215.42 L231.5,214.98 L231.85,216.14 L232.2,211.95 L232.55,215.77 L232.9,203.53 L233.25,216.75 L233.6,213.42 L233.95,216.52 L234.3,208.79 L234.65,213.74 L235,214.86 L235.35,216.74 L235.7,211.5 L236.05,214.55 L236.4,204.57 L236.75,216.85 L237.1,215.55 L237.45,216.22 L237.8,214.46 L238.15,216.01 L238.5,207.72 L238.85,214.5 L239.2,214.39 L239.55,216.22 L239.9,213.74 L240.25,216.28 L240.6,207.08 L240.95,215.69 L241.3,210.26 L241.65,213.57 L242,211.22 L242.35,215.91 L242.7,204.94 L243.05,213.16 L243.4,213.01 L243.75,214.7 L244.1,203.75 L244.45,214.97 L244.8,214.42 L245.15,216.79 L245.5,203.95 L245.85,213.64 L246.2,212.5 L246.55,214.8 L246.9,210.78 L247.25,215.86 L247.6,203.37 L247.95,214.28 L248.3,214.29 L248.65,216.96 L249,211.44 L249.35,215.47 L249.7,206.72 L250.05,214.08 L250.4,209.64 L250.75,216.36 L251.1,215.15 L251.45,215.69 L251.8,214.1 L252.15,213.49 L252.5,210.97 L252.85,214.43 L253.2,203.75 L253.55,215.93 L253.9,210.77 L254.25,216.4 L254.6,207.41 L254.95,216.99 L255.3,206.67 L255.65,213.65 L256,206.7 L256.35,216.67 L256.7,214.07 L257.05,214.18 L257.4,215.75 L257.75,215.12 L258.1,211.75 L258.45,213.26 L258.8,210.01 L259.15,213.55 L259.5,213.54 L259.85,213.74 L260.2,212.02 L260.55,213.12 L260.9,215.67 L261.25,213.42 L261.6,214.41 L261.95,214.59 L262.3,210.05 L262.65,216.28 L263,204.68 L263.35,215.55 L263.7,212.91 L264.05,216.64 L264.4,212.89 L264.75,214.73 L265.1,206.07 L265.45,215.21 L265.8,206.36 L266.15,216.46 L266.5,211.39 L266.85,214.66 L267.2,200.9 L267.55,212.82 L267.9,207.11 L268.25,216.94 L268.6,211.76 L268.95,213.47 L269.3,213.75 L269.65,214.22 L270,210.6 L270.35,216.95 L270.7,200.95 L271.05,213.11 L271.4,214.21 L271.75,214.02 L272.1,213.12 L272.45,215.18 L272.8,208.86 L273.15,215.46 L273.5,211.88 L273.85,214.85 L274.2,205.29 L274.55,215.52 L274.9,213.58 L275.25,212.53 L275.6,211.14 L275.95,210.93 L276.3,206.02 L276.65,212.2 L277,210.82 L277.35,211.44 L277.7,214.9 L278.05,216.04 L278.4,214.84 L278.75,212.33 L279.1,201.83 L279.45,215.75 L279.8,209.02 L280.15,211.09 L280.5,204.44 L280.85,216.36 L281.2,212.49 L281.55,215.87 L281.9,214.31 L282.25,214.11 L282.6,215.12 L282.95,210.55 L283.3,208.64 L283.65,213.46 L284,203.64 L284.35,211.75 L284.7,199.39 L285.05,214.39 L285.4,210.87 L285.75,214.25 L286.1,215.99 L286.45,214.46 L286.8,207.48 L287.15,212.64 L287.5,210.66 L287.85,215.32 L288.2,214.82 L288.55,216.98 L288.9,215.9 L289.25,216.59 L289.6,214.64 L289.95,216.87 L290.3,215.73 L290.65,216.39 L291,214.02 L291.35,216.01 L291.7,214.81 L292.05,216.81 L292.4,214.13 L292.75,215.92 L293.1,215.07 L293.45,216.58 L293.8,215.27 L294.15,216.83 L294.5,214.37 L294.85,215.82 L295.2,214.75 L295.55,215.93 L295.9,210.21 L296.25,216.5 L296.6,205.82 L296.95,214.74 L297.3,214.65 L297.65,216.65 L298,214.08 L298.35,214.51 L298.7,207.6 L299.05,215.55 L299.4,203.36 L299.75,215.38 L300.1,210.95 L300.45,216.43 L300.8,201.99 L301.15,216.37 L301.5,203.08 L301.85,214.42 L302.2,209.01 L302.55,214.28 L302.9,213.34 L303.25,212.44 L303.6,199.89 L303.95,212.76 L304.3,207.42 L304.65,216.34 L305,202.53 L305.35,215.41 L305.7,200.45 L306.05,215.63 L306.4,207.09 L306.75,212.14 L307.1,213.85 L307.45,213.71 L307.8,215.33 L308.15,216.81 L308.5,213.89 L308.85,210.99 L309.2,198.1 L309.55,212.96 L309.9,211.75 L310.25,212.86 L310.6,202.79 L310.95,214.63 L311.3,206.01 L311.65,211.97 L312,215.99 L312.35,215.74 L312.7,209.32 L313.05,216.18 L313.4,211.39 L313.75,214.05 L314.1,214.71 L314.45,214.6 L314.8,214.04 L315.15,214.69 L315.5,213.39 L315.85,214.48 L316.2,216.21 L316.55,214.34 L316.9,215.3 L317.25,213.17 L317.6,209.82 L317.95,215.11 L318.3,212.3 L318.65,214.47 L319,208.39 L319.35,213.9 L319.7,207.35 L320.05,215 L320.4,203.24 L320.75,213.52 L321.1,205.51 L321.45,215.29 L321.8,211.83 L322.15,214.62" fill="none" stroke="#ff0000" stroke-width="1.0" stroke-linejoin="round" stroke-linecap="butt" stroke-linejoin="miter" stroke-miterlimit="3"/>
<path d="M68.7,217 L69.4,204.5 L70.1,217 M71.1,217 L71.8,204.2 L72.5,217 M73.3,217 L74,204.5 L74.7,217 M74.5,217 L75.2,205 L75.9,217 M80.9,217 L81.6,189.3 L82.3,217 M91.8,217 L92.5,198 L93.2,217 M95.7,217 L96.4,196.8 L97.1,217 M104.8,217 L105.5,189.1 L106.2,217 M108.8,217 L109.5,192 L110.2,217 M110.1,217 L110.8,198.5 L111.5,217 M118.9,217 L119.6,190.2 L120.3,217 M121.1,217 L121.8,198.5 L122.5,217 M122.3,217 L123,203 L123.7,217 M130,217 L130.7,188.6 L131.4,217 M136.4,217 L137.1,183.6 L137.8,217 M144.7,217 L145.4,176.1 L146.1,217 M146.3,217 L147,207 L147.7,217 M153.1,217 L153.8,183.2 L154.5,217 M153.9,217 L154.6,209 L155.3,217 M160.1,217 L160.8,191.5 L161.5,217 M161.2,217 L161.9,204 L162.6,217 M163.3,217 L164,205 L164.7,217 M165.1,217 L165.8,204 L166.5,217 M176.8,217 L177.5,185 L178.2,217 M178.6,217 L179.3,203 L180,217 M185.8,217 L186.5,185 L187.2,217 M196.1,217 L196.8,180.7 L197.5,217 M197.2,217 L197.9,197.8 L198.6,217 M202.9,217 L203.6,202.6 L204.3,217 M206.7,217 L207.4,198.8 L208.1,217 M244.7,217 L245.4,202.6 L246.1,217 M251.3,217 L252,202.6 L252.7,217 M254.8,217 L255.5,202.6 L256.2,217 M256.7,217 L257.4,202.6 L258.1,217 M297.2,217 L297.9,196.6 L298.6,217 M306.3,217 L307,198.4 L307.7,217 M310.7,217 L311.4,198.4 L312.1,217 M280.3,217 L281,197.5 L281.7,217 " fill="#ff0000" stroke="#ff0000" stroke-width="1.1" stroke-linejoin="miter" stroke-miterlimit="3"/>
<rect x="27.5" y="215.5" width="293.8" height="2.2" fill="#ff0000"/>
</g>
<rect x="27.5" y="174.6" width="293.8" height="47.3" fill="none" stroke="#262626" stroke-width="0.95"/>
<line x1="24.3" y1="185.2" x2="27.5" y2="185.2" stroke="#262626" stroke-width="0.95"/>
<text x="21.7" y="188.8" font-size="8.8" text-anchor="end" textLength="5.28" lengthAdjust="spacingAndGlyphs" >2</text>
<line x1="24.3" y1="219.4" x2="27.5" y2="219.4" stroke="#262626" stroke-width="0.95"/>
<text x="21.7" y="223" font-size="8.8" text-anchor="end" textLength="5.28" lengthAdjust="spacingAndGlyphs" >0</text>
<line x1="27.5" y1="221.9" x2="27.5" y2="225.1" stroke="#262626" stroke-width="0.95"/>
<text x="27.5" y="234.8" font-size="8.8" text-anchor="middle" textLength="13.2" lengthAdjust="spacingAndGlyphs" >6.0</text>
<line x1="76.47" y1="221.9" x2="76.47" y2="225.1" stroke="#262626" stroke-width="0.95"/>
<text x="76.47" y="234.8" font-size="8.8" text-anchor="middle" textLength="13.2" lengthAdjust="spacingAndGlyphs" >6.2</text>
<line x1="125.43" y1="221.9" x2="125.43" y2="225.1" stroke="#262626" stroke-width="0.95"/>
<text x="125.43" y="234.8" font-size="8.8" text-anchor="middle" textLength="13.2" lengthAdjust="spacingAndGlyphs" >6.4</text>
<line x1="174.4" y1="221.9" x2="174.4" y2="225.1" stroke="#262626" stroke-width="0.95"/>
<text x="174.4" y="234.8" font-size="8.8" text-anchor="middle" textLength="13.2" lengthAdjust="spacingAndGlyphs" >6.6</text>
<line x1="223.37" y1="221.9" x2="223.37" y2="225.1" stroke="#262626" stroke-width="0.95"/>
<text x="223.37" y="234.8" font-size="8.8" text-anchor="middle" textLength="13.2" lengthAdjust="spacingAndGlyphs" >6.8</text>
<line x1="272.33" y1="221.9" x2="272.33" y2="225.1" stroke="#262626" stroke-width="0.95"/>
<text x="272.33" y="234.8" font-size="8.8" text-anchor="middle" textLength="13.2" lengthAdjust="spacingAndGlyphs" >7.0</text>
<line x1="321.3" y1="221.9" x2="321.3" y2="225.1" stroke="#262626" stroke-width="0.95"/>
<text x="321.3" y="234.8" font-size="8.8" text-anchor="middle" textLength="13.2" lengthAdjust="spacingAndGlyphs" >7.2</text>
<line x1="252.5" y1="184.8" x2="269.5" y2="184.8" stroke="#ff0000" stroke-width="1.45"/>
<text x="276" y="188.2" font-size="8.8" text-anchor="start" textLength="38.21" lengthAdjust="spacingAndGlyphs" >Be II PMT</text>
<text transform="translate(11.8,198.1) rotate(-90)" x="0" y="0" font-size="8.8" text-anchor="middle" textLength="39.45" lengthAdjust="spacingAndGlyphs">arb. units</text>
<text x="174.6" y="246.6" font-size="8.8" text-anchor="middle" textLength="16.69" lengthAdjust="spacingAndGlyphs" >t [s]</text>
<clipPath id="c5"><rect x="27.5" y="261.9" width="122.4" height="109.2"/></clipPath>
<g clip-path="url(#c5)">
<line x1="34.6" y1="273.1" x2="34.6" y2="289.5" stroke="#ff7f0e" stroke-width="1.4"/>
<line x1="32.1" y1="273.1" x2="37.1" y2="273.1" stroke="#ff7f0e" stroke-width="1.4"/>
<line x1="32.1" y1="289.5" x2="37.1" y2="289.5" stroke="#ff7f0e" stroke-width="1.4"/>
<line x1="37.5" y1="273.1" x2="37.5" y2="289.5" stroke="#ff7f0e" stroke-width="1.4"/>
<line x1="35" y1="273.1" x2="40" y2="273.1" stroke="#ff7f0e" stroke-width="1.4"/>
<line x1="35" y1="289.5" x2="40" y2="289.5" stroke="#ff7f0e" stroke-width="1.4"/>
<line x1="44" y1="275.4" x2="44" y2="291.8" stroke="#ff7f0e" stroke-width="1.4"/>
<line x1="41.5" y1="275.4" x2="46.5" y2="275.4" stroke="#ff7f0e" stroke-width="1.4"/>
<line x1="41.5" y1="291.8" x2="46.5" y2="291.8" stroke="#ff7f0e" stroke-width="1.4"/>
<line x1="51.2" y1="276.6" x2="51.2" y2="293" stroke="#ff7f0e" stroke-width="1.4"/>
<line x1="48.7" y1="276.6" x2="53.7" y2="276.6" stroke="#ff7f0e" stroke-width="1.4"/>
<line x1="48.7" y1="293" x2="53.7" y2="293" stroke="#ff7f0e" stroke-width="1.4"/>
<line x1="58.4" y1="279.4" x2="58.4" y2="295" stroke="#ff7f0e" stroke-width="1.4"/>
<line x1="55.9" y1="279.4" x2="60.9" y2="279.4" stroke="#ff7f0e" stroke-width="1.4"/>
<line x1="55.9" y1="295" x2="60.9" y2="295" stroke="#ff7f0e" stroke-width="1.4"/>
<line x1="65.8" y1="283.1" x2="65.8" y2="297.1" stroke="#ff7f0e" stroke-width="1.4"/>
<line x1="63.3" y1="283.1" x2="68.3" y2="283.1" stroke="#ff7f0e" stroke-width="1.4"/>
<line x1="63.3" y1="297.1" x2="68.3" y2="297.1" stroke="#ff7f0e" stroke-width="1.4"/>
<line x1="73.5" y1="284" x2="73.5" y2="299.8" stroke="#ff7f0e" stroke-width="1.4"/>
<line x1="71" y1="284" x2="76" y2="284" stroke="#ff7f0e" stroke-width="1.4"/>
<line x1="71" y1="299.8" x2="76" y2="299.8" stroke="#ff7f0e" stroke-width="1.4"/>
<line x1="81" y1="290.3" x2="81" y2="304.7" stroke="#ff7f0e" stroke-width="1.4"/>
<line x1="78.5" y1="290.3" x2="83.5" y2="290.3" stroke="#ff7f0e" stroke-width="1.4"/>
<line x1="78.5" y1="304.7" x2="83.5" y2="304.7" stroke="#ff7f0e" stroke-width="1.4"/>
<line x1="88.5" y1="297.3" x2="88.5" y2="307.3" stroke="#ff7f0e" stroke-width="1.4"/>
<line x1="86" y1="297.3" x2="91" y2="297.3" stroke="#ff7f0e" stroke-width="1.4"/>
<line x1="86" y1="307.3" x2="91" y2="307.3" stroke="#ff7f0e" stroke-width="1.4"/>
<line x1="96.1" y1="303.5" x2="96.1" y2="310.5" stroke="#ff7f0e" stroke-width="1.4"/>
<line x1="93.6" y1="303.5" x2="98.6" y2="303.5" stroke="#ff7f0e" stroke-width="1.4"/>
<line x1="93.6" y1="310.5" x2="98.6" y2="310.5" stroke="#ff7f0e" stroke-width="1.4"/>
<line x1="103.7" y1="306.3" x2="103.7" y2="315.7" stroke="#ff7f0e" stroke-width="1.4"/>
<line x1="101.2" y1="306.3" x2="106.2" y2="306.3" stroke="#ff7f0e" stroke-width="1.4"/>
<line x1="101.2" y1="315.7" x2="106.2" y2="315.7" stroke="#ff7f0e" stroke-width="1.4"/>
<line x1="111.3" y1="312.5" x2="111.3" y2="321.3" stroke="#ff7f0e" stroke-width="1.4"/>
<line x1="108.8" y1="312.5" x2="113.8" y2="312.5" stroke="#ff7f0e" stroke-width="1.4"/>
<line x1="108.8" y1="321.3" x2="113.8" y2="321.3" stroke="#ff7f0e" stroke-width="1.4"/>
<line x1="118.9" y1="317.5" x2="118.9" y2="324.5" stroke="#ff7f0e" stroke-width="1.4"/>
<line x1="116.4" y1="317.5" x2="121.4" y2="317.5" stroke="#ff7f0e" stroke-width="1.4"/>
<line x1="116.4" y1="324.5" x2="121.4" y2="324.5" stroke="#ff7f0e" stroke-width="1.4"/>
<line x1="126.5" y1="322.7" x2="126.5" y2="329.9" stroke="#ff7f0e" stroke-width="1.4"/>
<line x1="124" y1="322.7" x2="129" y2="322.7" stroke="#ff7f0e" stroke-width="1.4"/>
<line x1="124" y1="329.9" x2="129" y2="329.9" stroke="#ff7f0e" stroke-width="1.4"/>
<line x1="134" y1="324" x2="134" y2="331.2" stroke="#ff7f0e" stroke-width="1.4"/>
<line x1="131.5" y1="324" x2="136.5" y2="324" stroke="#ff7f0e" stroke-width="1.4"/>
<line x1="131.5" y1="331.2" x2="136.5" y2="331.2" stroke="#ff7f0e" stroke-width="1.4"/>
<line x1="141.7" y1="327.5" x2="141.7" y2="334.5" stroke="#ff7f0e" stroke-width="1.4"/>
<line x1="139.2" y1="327.5" x2="144.2" y2="327.5" stroke="#ff7f0e" stroke-width="1.4"/>
<line x1="139.2" y1="334.5" x2="144.2" y2="334.5" stroke="#ff7f0e" stroke-width="1.4"/>
<line x1="148.8" y1="338.2" x2="148.8" y2="345.2" stroke="#ff7f0e" stroke-width="1.4"/>
<line x1="146.3" y1="338.2" x2="151.3" y2="338.2" stroke="#ff7f0e" stroke-width="1.4"/>
<line x1="146.3" y1="345.2" x2="151.3" y2="345.2" stroke="#ff7f0e" stroke-width="1.4"/>
<line x1="54.8" y1="276.34" x2="54.8" y2="286.83" stroke="#1f77b4" stroke-width="1.15"/>
<line x1="52.8" y1="276.34" x2="56.8" y2="276.34" stroke="#1f77b4" stroke-width="1.15"/>
<line x1="52.8" y1="286.83" x2="56.8" y2="286.83" stroke="#1f77b4" stroke-width="1.15"/>
<line x1="55.7" y1="278.02" x2="55.7" y2="289.79" stroke="#1f77b4" stroke-width="1.15"/>
<line x1="53.7" y1="278.02" x2="57.7" y2="278.02" stroke="#1f77b4" stroke-width="1.15"/>
<line x1="53.7" y1="289.79" x2="57.7" y2="289.79" stroke="#1f77b4" stroke-width="1.15"/>
<line x1="56.59" y1="280.59" x2="56.59" y2="288.71" stroke="#1f77b4" stroke-width="1.15"/>
<line x1="54.59" y1="280.59" x2="58.59" y2="280.59" stroke="#1f77b4" stroke-width="1.15"/>
<line x1="54.59" y1="288.71" x2="58.59" y2="288.71" stroke="#1f77b4" stroke-width="1.15"/>
<line x1="57.38" y1="267.28" x2="57.38" y2="277.87" stroke="#1f77b4" stroke-width="1.15"/>
<line x1="55.38" y1="267.28" x2="59.38" y2="267.28" stroke="#1f77b4" stroke-width="1.15"/>
<line x1="55.38" y1="277.87" x2="59.38" y2="277.87" stroke="#1f77b4" stroke-width="1.15"/>
<line x1="58.34" y1="274.55" x2="58.34" y2="284.43" stroke="#1f77b4" stroke-width="1.15"/>
<line x1="56.34" y1="274.55" x2="60.34" y2="274.55" stroke="#1f77b4" stroke-width="1.15"/>
<line x1="56.34" y1="284.43" x2="60.34" y2="284.43" stroke="#1f77b4" stroke-width="1.15"/>
<line x1="59.04" y1="269.77" x2="59.04" y2="280.06" stroke="#1f77b4" stroke-width="1.15"/>
<line x1="57.04" y1="269.77" x2="61.04" y2="269.77" stroke="#1f77b4" stroke-width="1.15"/>
<line x1="57.04" y1="280.06" x2="61.04" y2="280.06" stroke="#1f77b4" stroke-width="1.15"/>
<line x1="59.64" y1="278.87" x2="59.64" y2="287.98" stroke="#1f77b4" stroke-width="1.15"/>
<line x1="57.64" y1="278.87" x2="61.64" y2="278.87" stroke="#1f77b4" stroke-width="1.15"/>
<line x1="57.64" y1="287.98" x2="61.64" y2="287.98" stroke="#1f77b4" stroke-width="1.15"/>
<line x1="60.61" y1="270.13" x2="60.61" y2="278.77" stroke="#1f77b4" stroke-width="1.15"/>
<line x1="58.61" y1="270.13" x2="62.61" y2="270.13" stroke="#1f77b4" stroke-width="1.15"/>
<line x1="58.61" y1="278.77" x2="62.61" y2="278.77" stroke="#1f77b4" stroke-width="1.15"/>
<line x1="61.53" y1="267.55" x2="61.53" y2="278.02" stroke="#1f77b4" stroke-width="1.15"/>
<line x1="59.53" y1="267.55" x2="63.53" y2="267.55" stroke="#1f77b4" stroke-width="1.15"/>
<line x1="59.53" y1="278.02" x2="63.53" y2="278.02" stroke="#1f77b4" stroke-width="1.15"/>
<line x1="62.18" y1="270.52" x2="62.18" y2="282" stroke="#1f77b4" stroke-width="1.15"/>
<line x1="60.18" y1="270.52" x2="64.18" y2="270.52" stroke="#1f77b4" stroke-width="1.15"/>
<line x1="60.18" y1="282" x2="64.18" y2="282" stroke="#1f77b4" stroke-width="1.15"/>
<line x1="62.86" y1="271.68" x2="62.86" y2="283.61" stroke="#1f77b4" stroke-width="1.15"/>
<line x1="60.86" y1="271.68" x2="64.86" y2="271.68" stroke="#1f77b4" stroke-width="1.15"/>
<line x1="60.86" y1="283.61" x2="64.86" y2="283.61" stroke="#1f77b4" stroke-width="1.15"/>
<line x1="63.81" y1="278.2" x2="63.81" y2="288.09" stroke="#1f77b4" stroke-width="1.15"/>
<line x1="61.81" y1="278.2" x2="65.81" y2="278.2" stroke="#1f77b4" stroke-width="1.15"/>
<line x1="61.81" y1="288.09" x2="65.81" y2="288.09" stroke="#1f77b4" stroke-width="1.15"/>
<line x1="64.73" y1="279.85" x2="64.73" y2="287.46" stroke="#1f77b4" stroke-width="1.15"/>
<line x1="62.73" y1="279.85" x2="66.73" y2="279.85" stroke="#1f77b4" stroke-width="1.15"/>
<line x1="62.73" y1="287.46" x2="66.73" y2="287.46" stroke="#1f77b4" stroke-width="1.15"/>
<line x1="65.8" y1="274.84" x2="65.8" y2="284.74" stroke="#1f77b4" stroke-width="1.15"/>
<line x1="63.8" y1="274.84" x2="67.8" y2="274.84" stroke="#1f77b4" stroke-width="1.15"/>
<line x1="63.8" y1="284.74" x2="67.8" y2="284.74" stroke="#1f77b4" stroke-width="1.15"/>
<line x1="66.86" y1="274.51" x2="66.86" y2="282.6" stroke="#1f77b4" stroke-width="1.15"/>
<line x1="64.86" y1="274.51" x2="68.86" y2="274.51" stroke="#1f77b4" stroke-width="1.15"/>
<line x1="64.86" y1="282.6" x2="68.86" y2="282.6" stroke="#1f77b4" stroke-width="1.15"/>
<line x1="67.63" y1="280.33" x2="67.63" y2="287.52" stroke="#1f77b4" stroke-width="1.15"/>
<line x1="65.63" y1="280.33" x2="69.63" y2="280.33" stroke="#1f77b4" stroke-width="1.15"/>
<line x1="65.63" y1="287.52" x2="69.63" y2="287.52" stroke="#1f77b4" stroke-width="1.15"/>
<line x1="68.45" y1="277.88" x2="68.45" y2="284.89" stroke="#1f77b4" stroke-width="1.15"/>
<line x1="66.45" y1="277.88" x2="70.45" y2="277.88" stroke="#1f77b4" stroke-width="1.15"/>
<line x1="66.45" y1="284.89" x2="70.45" y2="284.89" stroke="#1f77b4" stroke-width="1.15"/>
<line x1="69.42" y1="279.47" x2="69.42" y2="287.4" stroke="#1f77b4" stroke-width="1.15"/>
<line x1="67.42" y1="279.47" x2="71.42" y2="279.47" stroke="#1f77b4" stroke-width="1.15"/>
<line x1="67.42" y1="287.4" x2="71.42" y2="287.4" stroke="#1f77b4" stroke-width="1.15"/>
<line x1="70.45" y1="282.46" x2="70.45" y2="290.41" stroke="#1f77b4" stroke-width="1.15"/>
<line x1="68.45" y1="282.46" x2="72.45" y2="282.46" stroke="#1f77b4" stroke-width="1.15"/>
<line x1="68.45" y1="290.41" x2="72.45" y2="290.41" stroke="#1f77b4" stroke-width="1.15"/>
<line x1="71.34" y1="275.85" x2="71.34" y2="283.02" stroke="#1f77b4" stroke-width="1.15"/>
<line x1="69.34" y1="275.85" x2="73.34" y2="275.85" stroke="#1f77b4" stroke-width="1.15"/>
<line x1="69.34" y1="283.02" x2="73.34" y2="283.02" stroke="#1f77b4" stroke-width="1.15"/>
<line x1="72.43" y1="275.44" x2="72.43" y2="284.69" stroke="#1f77b4" stroke-width="1.15"/>
<line x1="70.43" y1="275.44" x2="74.43" y2="275.44" stroke="#1f77b4" stroke-width="1.15"/>
<line x1="70.43" y1="284.69" x2="74.43" y2="284.69" stroke="#1f77b4" stroke-width="1.15"/>
<line x1="73.47" y1="282.3" x2="73.47" y2="291.66" stroke="#1f77b4" stroke-width="1.15"/>
<line x1="71.47" y1="282.3" x2="75.47" y2="282.3" stroke="#1f77b4" stroke-width="1.15"/>
<line x1="71.47" y1="291.66" x2="75.47" y2="291.66" stroke="#1f77b4" stroke-width="1.15"/>
<line x1="74.31" y1="279.77" x2="74.31" y2="286.8" stroke="#1f77b4" stroke-width="1.15"/>
<line x1="72.31" y1="279.77" x2="76.31" y2="279.77" stroke="#1f77b4" stroke-width="1.15"/>
<line x1="72.31" y1="286.8" x2="76.31" y2="286.8" stroke="#1f77b4" stroke-width="1.15"/>
<line x1="75.03" y1="284.8" x2="75.03" y2="293.08" stroke="#1f77b4" stroke-width="1.15"/>
<line x1="73.03" y1="284.8" x2="77.03" y2="284.8" stroke="#1f77b4" stroke-width="1.15"/>
<line x1="73.03" y1="293.08" x2="77.03" y2="293.08" stroke="#1f77b4" stroke-width="1.15"/>
<line x1="76.17" y1="283.4" x2="76.17" y2="291.6" stroke="#1f77b4" stroke-width="1.15"/>
<line x1="74.17" y1="283.4" x2="78.17" y2="283.4" stroke="#1f77b4" stroke-width="1.15"/>
<line x1="74.17" y1="291.6" x2="78.17" y2="291.6" stroke="#1f77b4" stroke-width="1.15"/>
<line x1="77.83" y1="288.39" x2="77.83" y2="294.98" stroke="#1f77b4" stroke-width="1.15"/>
<line x1="75.83" y1="288.39" x2="79.83" y2="288.39" stroke="#1f77b4" stroke-width="1.15"/>
<line x1="75.83" y1="294.98" x2="79.83" y2="294.98" stroke="#1f77b4" stroke-width="1.15"/>
<line x1="79.2" y1="290.22" x2="79.2" y2="296.12" stroke="#1f77b4" stroke-width="1.15"/>
<line x1="77.2" y1="290.22" x2="81.2" y2="290.22" stroke="#1f77b4" stroke-width="1.15"/>
<line x1="77.2" y1="296.12" x2="81.2" y2="296.12" stroke="#1f77b4" stroke-width="1.15"/>
<line x1="80.72" y1="291.57" x2="80.72" y2="299.58" stroke="#1f77b4" stroke-width="1.15"/>
<line x1="78.72" y1="291.57" x2="82.72" y2="291.57" stroke="#1f77b4" stroke-width="1.15"/>
<line x1="78.72" y1="299.58" x2="82.72" y2="299.58" stroke="#1f77b4" stroke-width="1.15"/>
<line x1="81.75" y1="291.63" x2="81.75" y2="297.48" stroke="#1f77b4" stroke-width="1.15"/>
<line x1="79.75" y1="291.63" x2="83.75" y2="291.63" stroke="#1f77b4" stroke-width="1.15"/>
<line x1="79.75" y1="297.48" x2="83.75" y2="297.48" stroke="#1f77b4" stroke-width="1.15"/>
<line x1="82.99" y1="293.49" x2="82.99" y2="301.66" stroke="#1f77b4" stroke-width="1.15"/>
<line x1="80.99" y1="293.49" x2="84.99" y2="293.49" stroke="#1f77b4" stroke-width="1.15"/>
<line x1="80.99" y1="301.66" x2="84.99" y2="301.66" stroke="#1f77b4" stroke-width="1.15"/>
<line x1="84.22" y1="291.45" x2="84.22" y2="298.58" stroke="#1f77b4" stroke-width="1.15"/>
<line x1="82.22" y1="291.45" x2="86.22" y2="291.45" stroke="#1f77b4" stroke-width="1.15"/>
<line x1="82.22" y1="298.58" x2="86.22" y2="298.58" stroke="#1f77b4" stroke-width="1.15"/>
<line x1="85.44" y1="292.01" x2="85.44" y2="298.11" stroke="#1f77b4" stroke-width="1.15"/>
<line x1="83.44" y1="292.01" x2="87.44" y2="292.01" stroke="#1f77b4" stroke-width="1.15"/>
<line x1="83.44" y1="298.11" x2="87.44" y2="298.11" stroke="#1f77b4" stroke-width="1.15"/>
<line x1="86.5" y1="292.28" x2="86.5" y2="299.81" stroke="#1f77b4" stroke-width="1.15"/>
<line x1="84.5" y1="292.28" x2="88.5" y2="292.28" stroke="#1f77b4" stroke-width="1.15"/>
<line x1="84.5" y1="299.81" x2="88.5" y2="299.81" stroke="#1f77b4" stroke-width="1.15"/>
<line x1="88.19" y1="296.85" x2="88.19" y2="302.59" stroke="#1f77b4" stroke-width="1.15"/>
<line x1="86.19" y1="296.85" x2="90.19" y2="296.85" stroke="#1f77b4" stroke-width="1.15"/>
<line x1="86.19" y1="302.59" x2="90.19" y2="302.59" stroke="#1f77b4" stroke-width="1.15"/>
<line x1="89.88" y1="298.14" x2="89.88" y2="304.88" stroke="#1f77b4" stroke-width="1.15"/>
<line x1="87.88" y1="298.14" x2="91.88" y2="298.14" stroke="#1f77b4" stroke-width="1.15"/>
<line x1="87.88" y1="304.88" x2="91.88" y2="304.88" stroke="#1f77b4" stroke-width="1.15"/>
<line x1="91.05" y1="297.5" x2="91.05" y2="305.41" stroke="#1f77b4" stroke-width="1.15"/>
<line x1="89.05" y1="297.5" x2="93.05" y2="297.5" stroke="#1f77b4" stroke-width="1.15"/>
<line x1="89.05" y1="305.41" x2="93.05" y2="305.41" stroke="#1f77b4" stroke-width="1.15"/>
<line x1="92.37" y1="297.35" x2="92.37" y2="303.1" stroke="#1f77b4" stroke-width="1.15"/>
<line x1="90.37" y1="297.35" x2="94.37" y2="297.35" stroke="#1f77b4" stroke-width="1.15"/>
<line x1="90.37" y1="303.1" x2="94.37" y2="303.1" stroke="#1f77b4" stroke-width="1.15"/>
<line x1="94.01" y1="298.69" x2="94.01" y2="305.67" stroke="#1f77b4" stroke-width="1.15"/>
<line x1="92.01" y1="298.69" x2="96.01" y2="298.69" stroke="#1f77b4" stroke-width="1.15"/>
<line x1="92.01" y1="305.67" x2="96.01" y2="305.67" stroke="#1f77b4" stroke-width="1.15"/>
<line x1="95.6" y1="302.67" x2="95.6" y2="310.32" stroke="#1f77b4" stroke-width="1.15"/>
<line x1="93.6" y1="302.67" x2="97.6" y2="302.67" stroke="#1f77b4" stroke-width="1.15"/>
<line x1="93.6" y1="310.32" x2="97.6" y2="310.32" stroke="#1f77b4" stroke-width="1.15"/>
<line x1="97.26" y1="302.85" x2="97.26" y2="310.66" stroke="#1f77b4" stroke-width="1.15"/>
<line x1="95.26" y1="302.85" x2="99.26" y2="302.85" stroke="#1f77b4" stroke-width="1.15"/>
<line x1="95.26" y1="310.66" x2="99.26" y2="310.66" stroke="#1f77b4" stroke-width="1.15"/>
<line x1="98.34" y1="303.85" x2="98.34" y2="309.87" stroke="#1f77b4" stroke-width="1.15"/>
<line x1="96.34" y1="303.85" x2="100.34" y2="303.85" stroke="#1f77b4" stroke-width="1.15"/>
<line x1="96.34" y1="309.87" x2="100.34" y2="309.87" stroke="#1f77b4" stroke-width="1.15"/>
<line x1="99.93" y1="308.18" x2="99.93" y2="315.05" stroke="#1f77b4" stroke-width="1.15"/>
<line x1="97.93" y1="308.18" x2="101.93" y2="308.18" stroke="#1f77b4" stroke-width="1.15"/>
<line x1="97.93" y1="315.05" x2="101.93" y2="315.05" stroke="#1f77b4" stroke-width="1.15"/>
<line x1="101.63" y1="306.77" x2="101.63" y2="315.1" stroke="#1f77b4" stroke-width="1.15"/>
<line x1="99.63" y1="306.77" x2="103.63" y2="306.77" stroke="#1f77b4" stroke-width="1.15"/>
<line x1="99.63" y1="315.1" x2="103.63" y2="315.1" stroke="#1f77b4" stroke-width="1.15"/>
<line x1="102.95" y1="307.08" x2="102.95" y2="314.72" stroke="#1f77b4" stroke-width="1.15"/>
<line x1="100.95" y1="307.08" x2="104.95" y2="307.08" stroke="#1f77b4" stroke-width="1.15"/>
<line x1="100.95" y1="314.72" x2="104.95" y2="314.72" stroke="#1f77b4" stroke-width="1.15"/>
<line x1="104.28" y1="309.19" x2="104.28" y2="315.92" stroke="#1f77b4" stroke-width="1.15"/>
<line x1="102.28" y1="309.19" x2="106.28" y2="309.19" stroke="#1f77b4" stroke-width="1.15"/>
<line x1="102.28" y1="315.92" x2="106.28" y2="315.92" stroke="#1f77b4" stroke-width="1.15"/>
<line x1="105.38" y1="310.77" x2="105.38" y2="319.14" stroke="#1f77b4" stroke-width="1.15"/>
<line x1="103.38" y1="310.77" x2="107.38" y2="310.77" stroke="#1f77b4" stroke-width="1.15"/>
<line x1="103.38" y1="319.14" x2="107.38" y2="319.14" stroke="#1f77b4" stroke-width="1.15"/>
<line x1="107.06" y1="309.53" x2="107.06" y2="316.53" stroke="#1f77b4" stroke-width="1.15"/>
<line x1="105.06" y1="309.53" x2="109.06" y2="309.53" stroke="#1f77b4" stroke-width="1.15"/>
<line x1="105.06" y1="316.53" x2="109.06" y2="316.53" stroke="#1f77b4" stroke-width="1.15"/>
<line x1="108.29" y1="315.41" x2="108.29" y2="321.77" stroke="#1f77b4" stroke-width="1.15"/>
<line x1="106.29" y1="315.41" x2="110.29" y2="315.41" stroke="#1f77b4" stroke-width="1.15"/>
<line x1="106.29" y1="321.77" x2="110.29" y2="321.77" stroke="#1f77b4" stroke-width="1.15"/>
<line x1="109.84" y1="315.75" x2="109.84" y2="322.36" stroke="#1f77b4" stroke-width="1.15"/>
<line x1="107.84" y1="315.75" x2="111.84" y2="315.75" stroke="#1f77b4" stroke-width="1.15"/>
<line x1="107.84" y1="322.36" x2="111.84" y2="322.36" stroke="#1f77b4" stroke-width="1.15"/>
<line x1="111.39" y1="316.09" x2="111.39" y2="323.63" stroke="#1f77b4" stroke-width="1.15"/>
<line x1="109.39" y1="316.09" x2="113.39" y2="316.09" stroke="#1f77b4" stroke-width="1.15"/>
<line x1="109.39" y1="323.63" x2="113.39" y2="323.63" stroke="#1f77b4" stroke-width="1.15"/>
<line x1="112.86" y1="314.46" x2="112.86" y2="321.08" stroke="#1f77b4" stroke-width="1.15"/>
<line x1="110.86" y1="314.46" x2="114.86" y2="314.46" stroke="#1f77b4" stroke-width="1.15"/>
<line x1="110.86" y1="321.08" x2="114.86" y2="321.08" stroke="#1f77b4" stroke-width="1.15"/>
<line x1="114.35" y1="317.49" x2="114.35" y2="324.45" stroke="#1f77b4" stroke-width="1.15"/>
<line x1="112.35" y1="317.49" x2="116.35" y2="317.49" stroke="#1f77b4" stroke-width="1.15"/>
<line x1="112.35" y1="324.45" x2="116.35" y2="324.45" stroke="#1f77b4" stroke-width="1.15"/>
<line x1="115.89" y1="318.22" x2="115.89" y2="324.64" stroke="#1f77b4" stroke-width="1.15"/>
<line x1="113.89" y1="318.22" x2="117.89" y2="318.22" stroke="#1f77b4" stroke-width="1.15"/>
<line x1="113.89" y1="324.64" x2="117.89" y2="324.64" stroke="#1f77b4" stroke-width="1.15"/>
<line x1="117.55" y1="317.93" x2="117.55" y2="325.16" stroke="#1f77b4" stroke-width="1.15"/>
<line x1="115.55" y1="317.93" x2="119.55" y2="317.93" stroke="#1f77b4" stroke-width="1.15"/>
<line x1="115.55" y1="325.16" x2="119.55" y2="325.16" stroke="#1f77b4" stroke-width="1.15"/>
<line x1="118.56" y1="318.32" x2="118.56" y2="324.62" stroke="#1f77b4" stroke-width="1.15"/>
<line x1="116.56" y1="318.32" x2="120.56" y2="318.32" stroke="#1f77b4" stroke-width="1.15"/>
<line x1="116.56" y1="324.62" x2="120.56" y2="324.62" stroke="#1f77b4" stroke-width="1.15"/>
<line x1="120.03" y1="320.14" x2="120.03" y2="328.03" stroke="#1f77b4" stroke-width="1.15"/>
<line x1="118.03" y1="320.14" x2="122.03" y2="320.14" stroke="#1f77b4" stroke-width="1.15"/>
<line x1="118.03" y1="328.03" x2="122.03" y2="328.03" stroke="#1f77b4" stroke-width="1.15"/>
<line x1="121.48" y1="321.04" x2="121.48" y2="327.61" stroke="#1f77b4" stroke-width="1.15"/>
<line x1="119.48" y1="321.04" x2="123.48" y2="321.04" stroke="#1f77b4" stroke-width="1.15"/>
<line x1="119.48" y1="327.61" x2="123.48" y2="327.61" stroke="#1f77b4" stroke-width="1.15"/>
<line x1="122.93" y1="321.59" x2="122.93" y2="329.51" stroke="#1f77b4" stroke-width="1.15"/>
<line x1="120.93" y1="321.59" x2="124.93" y2="321.59" stroke="#1f77b4" stroke-width="1.15"/>
<line x1="120.93" y1="329.51" x2="124.93" y2="329.51" stroke="#1f77b4" stroke-width="1.15"/>
<line x1="124.18" y1="322.85" x2="124.18" y2="330.89" stroke="#1f77b4" stroke-width="1.15"/>
<line x1="122.18" y1="322.85" x2="126.18" y2="322.85" stroke="#1f77b4" stroke-width="1.15"/>
<line x1="122.18" y1="330.89" x2="126.18" y2="330.89" stroke="#1f77b4" stroke-width="1.15"/>
<line x1="125.66" y1="320.64" x2="125.66" y2="328.91" stroke="#1f77b4" stroke-width="1.15"/>
<line x1="123.66" y1="320.64" x2="127.66" y2="320.64" stroke="#1f77b4" stroke-width="1.15"/>
<line x1="123.66" y1="328.91" x2="127.66" y2="328.91" stroke="#1f77b4" stroke-width="1.15"/>
<line x1="127.02" y1="324.69" x2="127.02" y2="330.75" stroke="#1f77b4" stroke-width="1.15"/>
<line x1="125.02" y1="324.69" x2="129.02" y2="324.69" stroke="#1f77b4" stroke-width="1.15"/>
<line x1="125.02" y1="330.75" x2="129.02" y2="330.75" stroke="#1f77b4" stroke-width="1.15"/>
<line x1="128.61" y1="323.5" x2="128.61" y2="330.44" stroke="#1f77b4" stroke-width="1.15"/>
<line x1="126.61" y1="323.5" x2="130.61" y2="323.5" stroke="#1f77b4" stroke-width="1.15"/>
<line x1="126.61" y1="330.44" x2="130.61" y2="330.44" stroke="#1f77b4" stroke-width="1.15"/>
<line x1="130.09" y1="324.03" x2="130.09" y2="331.67" stroke="#1f77b4" stroke-width="1.15"/>
<line x1="128.09" y1="324.03" x2="132.09" y2="324.03" stroke="#1f77b4" stroke-width="1.15"/>
<line x1="128.09" y1="331.67" x2="132.09" y2="331.67" stroke="#1f77b4" stroke-width="1.15"/>
<line x1="131.21" y1="322.49" x2="131.21" y2="329.71" stroke="#1f77b4" stroke-width="1.15"/>
<line x1="129.21" y1="322.49" x2="133.21" y2="322.49" stroke="#1f77b4" stroke-width="1.15"/>
<line x1="129.21" y1="329.71" x2="133.21" y2="329.71" stroke="#1f77b4" stroke-width="1.15"/>
<line x1="132.68" y1="324.29" x2="132.68" y2="331.64" stroke="#1f77b4" stroke-width="1.15"/>
<line x1="130.68" y1="324.29" x2="134.68" y2="324.29" stroke="#1f77b4" stroke-width="1.15"/>
<line x1="130.68" y1="331.64" x2="134.68" y2="331.64" stroke="#1f77b4" stroke-width="1.15"/>
<line x1="134.22" y1="321.97" x2="134.22" y2="329.58" stroke="#1f77b4" stroke-width="1.15"/>
<line x1="132.22" y1="321.97" x2="136.22" y2="321.97" stroke="#1f77b4" stroke-width="1.15"/>
<line x1="132.22" y1="329.58" x2="136.22" y2="329.58" stroke="#1f77b4" stroke-width="1.15"/>
<line x1="135.24" y1="323.2" x2="135.24" y2="330.04" stroke="#1f77b4" stroke-width="1.15"/>
<line x1="133.24" y1="323.2" x2="137.24" y2="323.2" stroke="#1f77b4" stroke-width="1.15"/>
<line x1="133.24" y1="330.04" x2="137.24" y2="330.04" stroke="#1f77b4" stroke-width="1.15"/>
<line x1="136.69" y1="322.57" x2="136.69" y2="330.09" stroke="#1f77b4" stroke-width="1.15"/>
<line x1="134.69" y1="322.57" x2="138.69" y2="322.57" stroke="#1f77b4" stroke-width="1.15"/>
<line x1="134.69" y1="330.09" x2="138.69" y2="330.09" stroke="#1f77b4" stroke-width="1.15"/>
<line x1="138.13" y1="320.35" x2="138.13" y2="334.12" stroke="#1f77b4" stroke-width="1.15"/>
<line x1="136.13" y1="320.35" x2="140.13" y2="320.35" stroke="#1f77b4" stroke-width="1.15"/>
<line x1="136.13" y1="334.12" x2="140.13" y2="334.12" stroke="#1f77b4" stroke-width="1.15"/>
<line x1="139.67" y1="323.5" x2="139.67" y2="334.57" stroke="#1f77b4" stroke-width="1.15"/>
<line x1="137.67" y1="323.5" x2="141.67" y2="323.5" stroke="#1f77b4" stroke-width="1.15"/>
<line x1="137.67" y1="334.57" x2="141.67" y2="334.57" stroke="#1f77b4" stroke-width="1.15"/>
<line x1="141.26" y1="326.28" x2="141.26" y2="337.83" stroke="#1f77b4" stroke-width="1.15"/>
<line x1="139.26" y1="326.28" x2="143.26" y2="326.28" stroke="#1f77b4" stroke-width="1.15"/>
<line x1="139.26" y1="337.83" x2="143.26" y2="337.83" stroke="#1f77b4" stroke-width="1.15"/>
<line x1="142.68" y1="327.76" x2="142.68" y2="340.81" stroke="#1f77b4" stroke-width="1.15"/>
<line x1="140.68" y1="327.76" x2="144.68" y2="327.76" stroke="#1f77b4" stroke-width="1.15"/>
<line x1="140.68" y1="340.81" x2="144.68" y2="340.81" stroke="#1f77b4" stroke-width="1.15"/>
<line x1="144.45" y1="327.58" x2="144.45" y2="339.48" stroke="#1f77b4" stroke-width="1.15"/>
<line x1="142.45" y1="327.58" x2="146.45" y2="327.58" stroke="#1f77b4" stroke-width="1.15"/>
<line x1="142.45" y1="339.48" x2="146.45" y2="339.48" stroke="#1f77b4" stroke-width="1.15"/>
<line x1="146.39" y1="334.51" x2="146.39" y2="347.75" stroke="#1f77b4" stroke-width="1.15"/>
<line x1="144.39" y1="334.51" x2="148.39" y2="334.51" stroke="#1f77b4" stroke-width="1.15"/>
<line x1="144.39" y1="347.75" x2="148.39" y2="347.75" stroke="#1f77b4" stroke-width="1.15"/>
<line x1="147.96" y1="343.51" x2="147.96" y2="354.43" stroke="#1f77b4" stroke-width="1.15"/>
<line x1="145.96" y1="343.51" x2="149.96" y2="343.51" stroke="#1f77b4" stroke-width="1.15"/>
<line x1="145.96" y1="354.43" x2="149.96" y2="354.43" stroke="#1f77b4" stroke-width="1.15"/>
<path d="M27.5,273.3 L28.2,273.18 L28.9,273.07 L29.6,272.98 L30.3,272.9 L31,272.83 L31.7,272.77 L32.4,272.72 L33.1,272.69 L33.8,272.66 L34.5,272.64 L35.2,272.62 L35.9,272.61 L36.6,272.6 L37.3,272.6 L38,272.6 L38.7,272.6 L39.4,272.62 L40.1,272.66 L40.8,272.74 L41.5,272.85 L42.2,272.97 L42.9,273.12 L43.6,273.29 L44.3,273.47 L45,273.67 L45.7,273.88 L46.4,274.1 L47.1,274.33 L47.8,274.56 L48.5,274.79 L49.2,275.02 L49.9,275.24 L50.6,275.46 L51.3,275.7 L52,275.96 L52.7,276.24 L53.4,276.53 L54.1,276.84 L54.8,277.16 L55.5,277.48 L56.2,277.81 L56.9,278.15 L57.6,278.48 L58.3,278.82 L59,279.14 L59.7,279.47 L60.4,279.78 L61.1,280.08 L61.8,280.37 L62.5,280.66 L63.2,280.94 L63.9,281.22 L64.6,281.51 L65.3,281.79 L66,282.08 L66.7,282.38 L67.4,282.69 L68.1,283.01 L68.8,283.34 L69.5,283.68 L70.2,284.05 L70.9,284.43 L71.6,284.84 L72.3,285.28 L73,285.77 L73.7,286.3 L74.4,286.86 L75.1,287.46 L75.8,288.09 L76.5,288.75 L77.2,289.42 L77.9,290.1 L78.6,290.79 L79.3,291.49 L80,292.19 L80.7,292.88 L81.4,293.56 L82.1,294.22 L82.8,294.87 L83.5,295.49 L84.2,296.1 L84.9,296.7 L85.6,297.3 L86.3,297.9 L87,298.5 L87.7,299.1 L88.4,299.69 L89.1,300.28 L89.8,300.87 L90.5,301.46 L91.2,302.05 L91.9,302.64 L92.6,303.22 L93.3,303.8 L94,304.39 L94.7,304.97 L95.4,305.55 L96.1,306.14 L96.8,306.74 L97.5,307.35 L98.2,307.97 L98.9,308.59 L99.6,309.21 L100.3,309.83 L101,310.45 L101.7,311.07 L102.4,311.68 L103.1,312.29 L103.8,312.89 L104.5,313.47 L105.2,314.05 L105.9,314.61 L106.6,315.15 L107.3,315.68 L108,316.18 L108.7,316.67 L109.4,317.13 L110.1,317.56 L110.8,317.97 L111.5,318.36 L112.2,318.74 L112.9,319.11 L113.6,319.46 L114.3,319.8 L115,320.13 L115.7,320.45 L116.4,320.76 L117.1,321.07 L117.8,321.37 L118.5,321.67 L119.2,321.96 L119.9,322.25 L120.6,322.54 L121.3,322.82 L122,323.11 L122.7,323.4 L123.4,323.69 L124.1,323.98 L124.8,324.27 L125.5,324.54 L126.2,324.8 L126.9,325.05 L127.6,325.3 L128.3,325.54 L129,325.79 L129.7,326.03 L130.4,326.28 L131.1,326.53 L131.8,326.8 L132.5,327.07 L133.2,327.36 L133.9,327.67 L134.6,327.99 L135.3,328.34 L136,328.71 L136.7,329.09 L137.4,329.48 L138.1,329.89 L138.8,330.34 L139.5,330.82 L140.2,331.35 L140.9,331.94 L141.6,332.59 L142.3,333.31 L143,334.12 L143.7,335.13 L144.4,336.42 L145.1,338 L145.8,339.86 L146.5,342.04 L147.2,345.27 L147.9,349.37 L148.6,353.66 L149.3,358.66 L150,365.66 L150.7,374.75" fill="none" stroke="#2ca02c" stroke-width="1.45" stroke-linejoin="round" stroke-linecap="butt" />
<circle cx="54.8" cy="281.58" r="1.1" fill="#1f77b4"/>
<circle cx="55.7" cy="283.91" r="1.1" fill="#1f77b4"/>
<circle cx="56.59" cy="284.65" r="1.1" fill="#1f77b4"/>
<circle cx="57.38" cy="272.58" r="1.1" fill="#1f77b4"/>
<circle cx="58.34" cy="279.49" r="1.1" fill="#1f77b4"/>
<circle cx="59.04" cy="274.91" r="1.1" fill="#1f77b4"/>
<circle cx="59.64" cy="283.43" r="1.1" fill="#1f77b4"/>
<circle cx="60.61" cy="274.45" r="1.1" fill="#1f77b4"/>
<circle cx="61.53" cy="272.78" r="1.1" fill="#1f77b4"/>
<circle cx="62.18" cy="276.26" r="1.1" fill="#1f77b4"/>
<circle cx="62.86" cy="277.64" r="1.1" fill="#1f77b4"/>
<circle cx="63.81" cy="283.14" r="1.1" fill="#1f77b4"/>
<circle cx="64.73" cy="283.66" r="1.1" fill="#1f77b4"/>
<circle cx="65.8" cy="279.79" r="1.1" fill="#1f77b4"/>
<circle cx="66.86" cy="278.55" r="1.1" fill="#1f77b4"/>
<circle cx="67.63" cy="283.92" r="1.1" fill="#1f77b4"/>
<circle cx="68.45" cy="281.39" r="1.1" fill="#1f77b4"/>
<circle cx="69.42" cy="283.43" r="1.1" fill="#1f77b4"/>
<circle cx="70.45" cy="286.43" r="1.1" fill="#1f77b4"/>
<circle cx="71.34" cy="279.44" r="1.1" fill="#1f77b4"/>
<circle cx="72.43" cy="280.07" r="1.1" fill="#1f77b4"/>
<circle cx="73.47" cy="286.98" r="1.1" fill="#1f77b4"/>
<circle cx="74.31" cy="283.28" r="1.1" fill="#1f77b4"/>
<circle cx="75.03" cy="288.94" r="1.1" fill="#1f77b4"/>
<circle cx="76.17" cy="287.5" r="1.1" fill="#1f77b4"/>
<circle cx="77.83" cy="291.68" r="1.1" fill="#1f77b4"/>
<circle cx="79.2" cy="293.17" r="1.1" fill="#1f77b4"/>
<circle cx="80.72" cy="295.57" r="1.1" fill="#1f77b4"/>
<circle cx="81.75" cy="294.55" r="1.1" fill="#1f77b4"/>
<circle cx="82.99" cy="297.58" r="1.1" fill="#1f77b4"/>
<circle cx="84.22" cy="295.02" r="1.1" fill="#1f77b4"/>
<circle cx="85.44" cy="295.06" r="1.1" fill="#1f77b4"/>
<circle cx="86.5" cy="296.04" r="1.1" fill="#1f77b4"/>
<circle cx="88.19" cy="299.72" r="1.1" fill="#1f77b4"/>
<circle cx="89.88" cy="301.51" r="1.1" fill="#1f77b4"/>
<circle cx="91.05" cy="301.46" r="1.1" fill="#1f77b4"/>
<circle cx="92.37" cy="300.23" r="1.1" fill="#1f77b4"/>
<circle cx="94.01" cy="302.18" r="1.1" fill="#1f77b4"/>
<circle cx="95.6" cy="306.5" r="1.1" fill="#1f77b4"/>
<circle cx="97.26" cy="306.75" r="1.1" fill="#1f77b4"/>
<circle cx="98.34" cy="306.86" r="1.1" fill="#1f77b4"/>
<circle cx="99.93" cy="311.61" r="1.1" fill="#1f77b4"/>
<circle cx="101.63" cy="310.94" r="1.1" fill="#1f77b4"/>
<circle cx="102.95" cy="310.9" r="1.1" fill="#1f77b4"/>
<circle cx="104.28" cy="312.55" r="1.1" fill="#1f77b4"/>
<circle cx="105.38" cy="314.96" r="1.1" fill="#1f77b4"/>
<circle cx="107.06" cy="313.03" r="1.1" fill="#1f77b4"/>
<circle cx="108.29" cy="318.59" r="1.1" fill="#1f77b4"/>
<circle cx="109.84" cy="319.05" r="1.1" fill="#1f77b4"/>
<circle cx="111.39" cy="319.86" r="1.1" fill="#1f77b4"/>
<circle cx="112.86" cy="317.77" r="1.1" fill="#1f77b4"/>
<circle cx="114.35" cy="320.97" r="1.1" fill="#1f77b4"/>
<circle cx="115.89" cy="321.43" r="1.1" fill="#1f77b4"/>
<circle cx="117.55" cy="321.55" r="1.1" fill="#1f77b4"/>
<circle cx="118.56" cy="321.47" r="1.1" fill="#1f77b4"/>
<circle cx="120.03" cy="324.09" r="1.1" fill="#1f77b4"/>
<circle cx="121.48" cy="324.32" r="1.1" fill="#1f77b4"/>
<circle cx="122.93" cy="325.55" r="1.1" fill="#1f77b4"/>
<circle cx="124.18" cy="326.87" r="1.1" fill="#1f77b4"/>
<circle cx="125.66" cy="324.77" r="1.1" fill="#1f77b4"/>
<circle cx="127.02" cy="327.72" r="1.1" fill="#1f77b4"/>
<circle cx="128.61" cy="326.97" r="1.1" fill="#1f77b4"/>
<circle cx="130.09" cy="327.85" r="1.1" fill="#1f77b4"/>
<circle cx="131.21" cy="326.1" r="1.1" fill="#1f77b4"/>
<circle cx="132.68" cy="327.97" r="1.1" fill="#1f77b4"/>
<circle cx="134.22" cy="325.78" r="1.1" fill="#1f77b4"/>
<circle cx="135.24" cy="326.62" r="1.1" fill="#1f77b4"/>
<circle cx="136.69" cy="326.33" r="1.1" fill="#1f77b4"/>
<circle cx="138.13" cy="327.24" r="1.1" fill="#1f77b4"/>
<circle cx="139.67" cy="329.03" r="1.1" fill="#1f77b4"/>
<circle cx="141.26" cy="332.06" r="1.1" fill="#1f77b4"/>
<circle cx="142.68" cy="334.28" r="1.1" fill="#1f77b4"/>
<circle cx="144.45" cy="333.53" r="1.1" fill="#1f77b4"/>
<circle cx="146.39" cy="341.13" r="1.1" fill="#1f77b4"/>
<circle cx="147.96" cy="348.97" r="1.1" fill="#1f77b4"/>
<circle cx="34.6" cy="281.3" r="1.6" fill="#ff7f0e"/>
<circle cx="37.5" cy="281.3" r="1.6" fill="#ff7f0e"/>
<circle cx="44" cy="283.6" r="1.6" fill="#ff7f0e"/>
<circle cx="51.2" cy="284.8" r="1.6" fill="#ff7f0e"/>
<circle cx="58.4" cy="287.2" r="1.6" fill="#ff7f0e"/>
<circle cx="65.8" cy="290.1" r="1.6" fill="#ff7f0e"/>
<circle cx="73.5" cy="291.9" r="1.6" fill="#ff7f0e"/>
<circle cx="81" cy="297.5" r="1.6" fill="#ff7f0e"/>
<circle cx="88.5" cy="302.3" r="1.6" fill="#ff7f0e"/>
<circle cx="96.1" cy="307" r="1.6" fill="#ff7f0e"/>
<circle cx="103.7" cy="311" r="1.6" fill="#ff7f0e"/>
<circle cx="111.3" cy="316.9" r="1.6" fill="#ff7f0e"/>
<circle cx="118.9" cy="321" r="1.6" fill="#ff7f0e"/>
<circle cx="126.5" cy="326.3" r="1.6" fill="#ff7f0e"/>
<circle cx="134" cy="327.6" r="1.6" fill="#ff7f0e"/>
<circle cx="141.7" cy="331" r="1.6" fill="#ff7f0e"/>
<circle cx="148.8" cy="341.7" r="1.6" fill="#ff7f0e"/>
</g>
<rect x="27.5" y="261.9" width="122.4" height="109.2" fill="none" stroke="#262626" stroke-width="0.95"/>
<line x1="24.3" y1="279.78" x2="27.5" y2="279.78" stroke="#262626" stroke-width="0.95"/>
<text x="21.7" y="283.38" font-size="8.8" text-anchor="end" textLength="5.28" lengthAdjust="spacingAndGlyphs" >6</text>
<line x1="24.3" y1="308.62" x2="27.5" y2="308.62" stroke="#262626" stroke-width="0.95"/>
<text x="21.7" y="312.22" font-size="8.8" text-anchor="end" textLength="5.28" lengthAdjust="spacingAndGlyphs" >4</text>
<line x1="24.3" y1="337.46" x2="27.5" y2="337.46" stroke="#262626" stroke-width="0.95"/>
<text x="21.7" y="341.06" font-size="8.8" text-anchor="end" textLength="5.28" lengthAdjust="spacingAndGlyphs" >2</text>
<line x1="24.3" y1="366.3" x2="27.5" y2="366.3" stroke="#262626" stroke-width="0.95"/>
<text x="21.7" y="369.9" font-size="8.8" text-anchor="end" textLength="5.28" lengthAdjust="spacingAndGlyphs" >0</text>
<text x="28.2" y="259.6" font-size="8.8" text-anchor="start" textLength="20.19" lengthAdjust="spacingAndGlyphs" >1e19</text>
<rect x="30.2" y="336.4" width="44.3" height="31.3" rx="2" ry="2" fill="#ffffff" fill-opacity="0.8" stroke="#cccccc" stroke-width="0.9"/>
<line x1="32.8" y1="342.3" x2="47.2" y2="342.3" stroke="#2ca02c" stroke-width="1.45"/>
<line x1="40.2" y1="348.3" x2="40.2" y2="355.3" stroke="#1f77b4" stroke-width="1.2"/>
<line x1="37.9" y1="348.3" x2="42.5" y2="348.3" stroke="#1f77b4" stroke-width="1.2"/>
<line x1="37.9" y1="355.3" x2="42.5" y2="355.3" stroke="#1f77b4" stroke-width="1.2"/>
<line x1="40.2" y1="358" x2="40.2" y2="365" stroke="#ff7f0e" stroke-width="1.2"/>
<line x1="37.9" y1="358" x2="42.5" y2="358" stroke="#ff7f0e" stroke-width="1.2"/>
<line x1="37.9" y1="365" x2="42.5" y2="365" stroke="#ff7f0e" stroke-width="1.2"/>
<circle cx="40.2" cy="351.8" r="1.8" fill="#1f77b4"/>
<circle cx="40.2" cy="361.5" r="1.8" fill="#ff7f0e"/>
<text x="51.9" y="344.8" font-size="7.21" text-anchor="start" textLength="6.95" lengthAdjust="spacingAndGlyphs" >fit</text>
<text x="51.9" y="354.3" font-size="7.21" text-anchor="start" textLength="18.31" lengthAdjust="spacingAndGlyphs" >HRTS</text>
<text x="51.9" y="364" font-size="7.21" text-anchor="start" textLength="20.41" lengthAdjust="spacingAndGlyphs" >LIDAR</text>
<text transform="translate(11.8,316.5) rotate(-90)" x="0" y="0" font-size="9.2" text-anchor="middle" textLength="35" lengthAdjust="spacingAndGlyphs"><tspan font-style="italic">n</tspan><tspan style="stroke-width:0.06px" font-size="6.4" dy="1.9" font-style="italic">e</tspan><tspan dy="-1.9"> [m</tspan><tspan style="stroke-width:0.06px" font-size="6.4" dy="-3.4">&#8722;3</tspan><tspan dy="3.4">]</tspan></text>
<clipPath id="c6"><rect x="27.5" y="371.1" width="122.4" height="109.4"/></clipPath>
<g clip-path="url(#c6)">
<line x1="33.4" y1="376.04" x2="33.4" y2="393.64" stroke="#1f77b4" stroke-width="0.95"/>
<line x1="34.8" y1="376.88" x2="34.8" y2="394.48" stroke="#1f77b4" stroke-width="0.95"/>
<line x1="36.2" y1="376" x2="36.2" y2="393.6" stroke="#1f77b4" stroke-width="0.95"/>
<line x1="37.6" y1="376.69" x2="37.6" y2="394.29" stroke="#1f77b4" stroke-width="0.95"/>
<line x1="39" y1="376.34" x2="39" y2="393.94" stroke="#1f77b4" stroke-width="0.95"/>
<line x1="40.4" y1="376.73" x2="40.4" y2="394.33" stroke="#1f77b4" stroke-width="0.95"/>
<line x1="41.8" y1="377.42" x2="41.8" y2="395.02" stroke="#1f77b4" stroke-width="0.95"/>
<line x1="43.2" y1="377.36" x2="43.2" y2="394.96" stroke="#1f77b4" stroke-width="0.95"/>
<line x1="44.6" y1="376.95" x2="44.6" y2="394.55" stroke="#1f77b4" stroke-width="0.95"/>
<line x1="46" y1="377.86" x2="46" y2="395.46" stroke="#1f77b4" stroke-width="0.95"/>
<line x1="47.4" y1="378.29" x2="47.4" y2="394.61" stroke="#1f77b4" stroke-width="1.25"/>
<line x1="49.7" y1="378.63" x2="49.7" y2="394.51" stroke="#1f77b4" stroke-width="1.25"/>
<line x1="52" y1="379.47" x2="52" y2="394.92" stroke="#1f77b4" stroke-width="1.25"/>
<line x1="54.3" y1="381.93" x2="54.3" y2="396.95" stroke="#1f77b4" stroke-width="1.25"/>
<line x1="56.6" y1="383.5" x2="56.6" y2="398.08" stroke="#1f77b4" stroke-width="1.25"/>
<line x1="58.9" y1="385.88" x2="58.9" y2="400.02" stroke="#1f77b4" stroke-width="1.25"/>
<line x1="61.2" y1="387.58" x2="61.2" y2="401.28" stroke="#1f77b4" stroke-width="1.25"/>
<line x1="63.5" y1="388.62" x2="63.5" y2="401.88" stroke="#1f77b4" stroke-width="1.25"/>
<line x1="65.8" y1="389.93" x2="65.8" y2="402.76" stroke="#1f77b4" stroke-width="1.25"/>
<line x1="68.1" y1="392.89" x2="68.1" y2="405.28" stroke="#1f77b4" stroke-width="1.25"/>
<line x1="70.4" y1="393.02" x2="70.4" y2="404.97" stroke="#1f77b4" stroke-width="1.25"/>
<line x1="72.7" y1="395.17" x2="72.7" y2="406.68" stroke="#1f77b4" stroke-width="1.25"/>
<line x1="75" y1="398.02" x2="75" y2="409.1" stroke="#1f77b4" stroke-width="1.25"/>
<line x1="77.3" y1="400.01" x2="77.3" y2="410.65" stroke="#1f77b4" stroke-width="1.25"/>
<line x1="79.6" y1="400.93" x2="79.6" y2="411.14" stroke="#1f77b4" stroke-width="1.25"/>
<line x1="81.9" y1="403.87" x2="81.9" y2="413.64" stroke="#1f77b4" stroke-width="1.25"/>
<line x1="84.2" y1="406.57" x2="84.2" y2="415.91" stroke="#1f77b4" stroke-width="1.25"/>
<line x1="86.5" y1="408.1" x2="86.5" y2="416.99" stroke="#1f77b4" stroke-width="1.25"/>
<line x1="88.8" y1="411.46" x2="88.8" y2="419.92" stroke="#1f77b4" stroke-width="1.25"/>
<line x1="91.1" y1="414.51" x2="91.1" y2="422.53" stroke="#1f77b4" stroke-width="1.25"/>
<line x1="93.4" y1="417.73" x2="93.4" y2="425.31" stroke="#1f77b4" stroke-width="1.25"/>
<line x1="95.7" y1="421.87" x2="95.7" y2="429.02" stroke="#1f77b4" stroke-width="1.25"/>
<line x1="98" y1="423.35" x2="98" y2="430.06" stroke="#1f77b4" stroke-width="1.25"/>
<line x1="100.3" y1="424.11" x2="100.3" y2="430.83" stroke="#1f77b4" stroke-width="1.3"/>
<line x1="102.3" y1="426.33" x2="102.3" y2="432.96" stroke="#1f77b4" stroke-width="1.3"/>
<line x1="104.3" y1="428.91" x2="104.3" y2="434.9" stroke="#1f77b4" stroke-width="1.3"/>
<line x1="106.3" y1="431.45" x2="106.3" y2="436.77" stroke="#1f77b4" stroke-width="1.3"/>
<line x1="108.3" y1="432.75" x2="108.3" y2="439.51" stroke="#1f77b4" stroke-width="1.3"/>
<line x1="110.3" y1="434.96" x2="110.3" y2="440.75" stroke="#1f77b4" stroke-width="1.3"/>
<line x1="112.3" y1="436.54" x2="112.3" y2="442.17" stroke="#1f77b4" stroke-width="1.3"/>
<line x1="114.3" y1="438.01" x2="114.3" y2="443.45" stroke="#1f77b4" stroke-width="1.3"/>
<line x1="116.3" y1="438.64" x2="116.3" y2="445.41" stroke="#1f77b4" stroke-width="1.3"/>
<line x1="118.3" y1="440.41" x2="118.3" y2="446.19" stroke="#1f77b4" stroke-width="1.3"/>
<line x1="120.3" y1="441.87" x2="120.3" y2="447.24" stroke="#1f77b4" stroke-width="1.3"/>
<line x1="122.3" y1="442.89" x2="122.3" y2="448.64" stroke="#1f77b4" stroke-width="1.3"/>
<line x1="124.3" y1="444.42" x2="124.3" y2="449.47" stroke="#1f77b4" stroke-width="1.3"/>
<line x1="126.3" y1="445.1" x2="126.3" y2="451.15" stroke="#1f77b4" stroke-width="1.3"/>
<line x1="128.3" y1="446.46" x2="128.3" y2="452.14" stroke="#1f77b4" stroke-width="1.3"/>
<line x1="130.3" y1="447.74" x2="130.3" y2="453.12" stroke="#1f77b4" stroke-width="1.3"/>
<line x1="132.3" y1="448.38" x2="132.3" y2="454.75" stroke="#1f77b4" stroke-width="1.3"/>
<line x1="134.3" y1="449.53" x2="134.3" y2="455.99" stroke="#1f77b4" stroke-width="1.3"/>
<line x1="136.3" y1="451.66" x2="136.3" y2="456.48" stroke="#1f77b4" stroke-width="1.3"/>
<line x1="138.3" y1="452.5" x2="138.3" y2="458.36" stroke="#1f77b4" stroke-width="1.3"/>
<line x1="140.3" y1="454.19" x2="140.3" y2="459.54" stroke="#1f77b4" stroke-width="1.3"/>
<line x1="142.3" y1="455.17" x2="142.3" y2="461.84" stroke="#1f77b4" stroke-width="1.3"/>
<line x1="144.3" y1="457.29" x2="144.3" y2="463.65" stroke="#1f77b4" stroke-width="1.3"/>
<line x1="146.3" y1="460.25" x2="146.3" y2="465.54" stroke="#1f77b4" stroke-width="1.3"/>
<line x1="148.3" y1="463.65" x2="148.3" y2="468.99" stroke="#1f77b4" stroke-width="1.3"/>
<line x1="55.5" y1="376.32" x2="55.5" y2="398.23" stroke="#ff7f0e" stroke-width="1.35"/>
<line x1="56.35" y1="387.05" x2="56.35" y2="404.85" stroke="#ff7f0e" stroke-width="1.35"/>
<line x1="57.37" y1="386.52" x2="57.37" y2="406.47" stroke="#ff7f0e" stroke-width="1.35"/>
<line x1="58.13" y1="391.56" x2="58.13" y2="407.96" stroke="#ff7f0e" stroke-width="1.35"/>
<line x1="59.09" y1="384.52" x2="59.09" y2="400.9" stroke="#ff7f0e" stroke-width="1.35"/>
<line x1="60.06" y1="387.17" x2="60.06" y2="404.06" stroke="#ff7f0e" stroke-width="1.35"/>
<line x1="61.13" y1="391.44" x2="61.13" y2="405.73" stroke="#ff7f0e" stroke-width="1.35"/>
<line x1="61.96" y1="386.03" x2="61.96" y2="407.36" stroke="#ff7f0e" stroke-width="1.35"/>
<line x1="63.1" y1="392.02" x2="63.1" y2="406.14" stroke="#ff7f0e" stroke-width="1.35"/>
<line x1="64.19" y1="388.41" x2="64.19" y2="407.01" stroke="#ff7f0e" stroke-width="1.35"/>
<line x1="65.25" y1="393.2" x2="65.25" y2="411.06" stroke="#ff7f0e" stroke-width="1.35"/>
<line x1="66.4" y1="389.94" x2="66.4" y2="407.08" stroke="#ff7f0e" stroke-width="1.35"/>
<line x1="67.53" y1="387.73" x2="67.53" y2="404.11" stroke="#ff7f0e" stroke-width="1.35"/>
<line x1="68.64" y1="384.04" x2="68.64" y2="404.73" stroke="#ff7f0e" stroke-width="1.35"/>
<line x1="69.69" y1="393.61" x2="69.69" y2="409.9" stroke="#ff7f0e" stroke-width="1.35"/>
<line x1="70.78" y1="403.6" x2="70.78" y2="418.74" stroke="#ff7f0e" stroke-width="1.35"/>
<line x1="71.72" y1="396.37" x2="71.72" y2="414.35" stroke="#ff7f0e" stroke-width="1.35"/>
<line x1="72.58" y1="389.54" x2="72.58" y2="408.23" stroke="#ff7f0e" stroke-width="1.35"/>
<line x1="73.69" y1="390.26" x2="73.69" y2="406.1" stroke="#ff7f0e" stroke-width="1.35"/>
<line x1="74.8" y1="402.37" x2="74.8" y2="421.68" stroke="#ff7f0e" stroke-width="1.35"/>
<line x1="75.51" y1="400.4" x2="75.51" y2="422.23" stroke="#ff7f0e" stroke-width="1.35"/>
<line x1="76.71" y1="404.6" x2="76.71" y2="418.99" stroke="#ff7f0e" stroke-width="1.35"/>
<line x1="77.83" y1="394.34" x2="77.83" y2="413.51" stroke="#ff7f0e" stroke-width="1.35"/>
<line x1="79.01" y1="404.33" x2="79.01" y2="415.87" stroke="#ff7f0e" stroke-width="1.35"/>
<line x1="81.04" y1="407.04" x2="81.04" y2="418.64" stroke="#ff7f0e" stroke-width="1.35"/>
<line x1="83.33" y1="405.85" x2="83.33" y2="417.49" stroke="#ff7f0e" stroke-width="1.35"/>
<line x1="85.63" y1="405.88" x2="85.63" y2="417.31" stroke="#ff7f0e" stroke-width="1.35"/>
<line x1="87.73" y1="408.68" x2="87.73" y2="419.91" stroke="#ff7f0e" stroke-width="1.35"/>
<line x1="89.99" y1="414.22" x2="89.99" y2="428.73" stroke="#ff7f0e" stroke-width="1.35"/>
<line x1="91.9" y1="416.09" x2="91.9" y2="428.35" stroke="#ff7f0e" stroke-width="1.35"/>
<line x1="94.18" y1="417.89" x2="94.18" y2="432.64" stroke="#ff7f0e" stroke-width="1.35"/>
<line x1="96.28" y1="418.06" x2="96.28" y2="431.85" stroke="#ff7f0e" stroke-width="1.35"/>
<line x1="98.2" y1="423.93" x2="98.2" y2="436.96" stroke="#ff7f0e" stroke-width="1.35"/>
<line x1="100.73" y1="428.8" x2="100.73" y2="436.29" stroke="#ff7f0e" stroke-width="1.35"/>
<line x1="102.54" y1="431.52" x2="102.54" y2="437.53" stroke="#ff7f0e" stroke-width="1.35"/>
<line x1="104.74" y1="434.1" x2="104.74" y2="439.63" stroke="#ff7f0e" stroke-width="1.35"/>
<line x1="106.53" y1="434.26" x2="106.53" y2="442.21" stroke="#ff7f0e" stroke-width="1.35"/>
<line x1="108.27" y1="437.55" x2="108.27" y2="445.17" stroke="#ff7f0e" stroke-width="1.35"/>
<line x1="109.94" y1="439.95" x2="109.94" y2="445.32" stroke="#ff7f0e" stroke-width="1.35"/>
<line x1="111.64" y1="440.68" x2="111.64" y2="446.63" stroke="#ff7f0e" stroke-width="1.35"/>
<line x1="113.94" y1="441.67" x2="113.94" y2="447.96" stroke="#ff7f0e" stroke-width="1.35"/>
<line x1="116.18" y1="440.51" x2="116.18" y2="448.41" stroke="#ff7f0e" stroke-width="1.35"/>
<line x1="117.82" y1="441.59" x2="117.82" y2="450.4" stroke="#ff7f0e" stroke-width="1.35"/>
<line x1="119.97" y1="444.91" x2="119.97" y2="450.38" stroke="#ff7f0e" stroke-width="1.35"/>
<line x1="122.34" y1="446.71" x2="122.34" y2="454.99" stroke="#ff7f0e" stroke-width="1.35"/>
<line x1="124.06" y1="448.49" x2="124.06" y2="454.91" stroke="#ff7f0e" stroke-width="1.35"/>
<line x1="125.84" y1="447.86" x2="125.84" y2="455.32" stroke="#ff7f0e" stroke-width="1.35"/>
<line x1="127.72" y1="450.14" x2="127.72" y2="455.68" stroke="#ff7f0e" stroke-width="1.35"/>
<line x1="129.99" y1="451.14" x2="129.99" y2="459.36" stroke="#ff7f0e" stroke-width="1.35"/>
<line x1="131.93" y1="453.63" x2="131.93" y2="460.7" stroke="#ff7f0e" stroke-width="1.35"/>
<line x1="134.01" y1="453.29" x2="134.01" y2="461.25" stroke="#ff7f0e" stroke-width="1.35"/>
<line x1="135.93" y1="454.04" x2="135.93" y2="459.17" stroke="#ff7f0e" stroke-width="1.35"/>
<line x1="137.69" y1="453.29" x2="137.69" y2="461.85" stroke="#ff7f0e" stroke-width="1.35"/>
<line x1="139.67" y1="459.34" x2="139.67" y2="464.34" stroke="#ff7f0e" stroke-width="1.35"/>
<line x1="141.65" y1="460.16" x2="141.65" y2="467.64" stroke="#ff7f0e" stroke-width="1.35"/>
<line x1="143.59" y1="461.29" x2="143.59" y2="466.69" stroke="#ff7f0e" stroke-width="1.35"/>
<line x1="145.32" y1="461.41" x2="145.32" y2="467.91" stroke="#ff7f0e" stroke-width="1.35"/>
<line x1="147.22" y1="467.42" x2="147.22" y2="473.03" stroke="#ff7f0e" stroke-width="1.35"/>
<line x1="149.03" y1="468.65" x2="149.03" y2="474.3" stroke="#ff7f0e" stroke-width="1.35"/>
<path d="M27.5,386.6 L28.2,386.45 L28.9,386.32 L29.6,386.2 L30.3,386.1 L31,386.01 L31.7,385.93 L32.4,385.86 L33.1,385.8 L33.8,385.75 L34.5,385.71 L35.2,385.68 L35.9,385.65 L36.6,385.63 L37.3,385.62 L38,385.61 L38.7,385.6 L39.4,385.6 L40.1,385.6 L40.8,385.62 L41.5,385.66 L42.2,385.72 L42.9,385.81 L43.6,385.91 L44.3,386.02 L45,386.15 L45.7,386.29 L46.4,386.44 L47.1,386.6 L47.8,386.75 L48.5,386.93 L49.2,387.15 L49.9,387.41 L50.6,387.71 L51.3,388.05 L52,388.41 L52.7,388.8 L53.4,389.21 L54.1,389.63 L54.8,390.05 L55.5,390.49 L56.2,390.92 L56.9,391.34 L57.6,391.76 L58.3,392.17 L59,392.6 L59.7,393.03 L60.4,393.48 L61.1,393.93 L61.8,394.39 L62.5,394.86 L63.2,395.33 L63.9,395.81 L64.6,396.3 L65.3,396.79 L66,397.28 L66.7,397.78 L67.4,398.29 L68.1,398.8 L68.8,399.31 L69.5,399.83 L70.2,400.35 L70.9,400.87 L71.6,401.39 L72.3,401.91 L73,402.43 L73.7,402.96 L74.4,403.48 L75.1,404 L75.8,404.52 L76.5,405.02 L77.2,405.53 L77.9,406.03 L78.6,406.53 L79.3,407.03 L80,407.55 L80.7,408.07 L81.4,408.61 L82.1,409.16 L82.8,409.74 L83.5,410.33 L84.2,410.96 L84.9,411.61 L85.6,412.3 L86.3,413.06 L87,413.91 L87.7,414.81 L88.4,415.77 L89.1,416.75 L89.8,417.75 L90.5,418.74 L91.2,419.71 L91.9,420.63 L92.6,421.5 L93.3,422.32 L94,423.12 L94.7,423.91 L95.4,424.67 L96.1,425.43 L96.8,426.18 L97.5,426.92 L98.2,427.65 L98.9,428.39 L99.6,429.13 L100.3,429.87 L101,430.62 L101.7,431.38 L102.4,432.16 L103.1,432.95 L103.8,433.74 L104.5,434.53 L105.2,435.31 L105.9,436.08 L106.6,436.83 L107.3,437.55 L108,438.24 L108.7,438.9 L109.4,439.52 L110.1,440.09 L110.8,440.65 L111.5,441.18 L112.2,441.69 L112.9,442.18 L113.6,442.66 L114.3,443.13 L115,443.59 L115.7,444.04 L116.4,444.49 L117.1,444.93 L117.8,445.38 L118.5,445.83 L119.2,446.27 L119.9,446.71 L120.6,447.14 L121.3,447.57 L122,447.99 L122.7,448.4 L123.4,448.82 L124.1,449.23 L124.8,449.64 L125.5,450.05 L126.2,450.47 L126.9,450.88 L127.6,451.3 L128.3,451.7 L129,452.1 L129.7,452.49 L130.4,452.89 L131.1,453.28 L131.8,453.68 L132.5,454.08 L133.2,454.49 L133.9,454.91 L134.6,455.35 L135.3,455.8 L136,456.27 L136.7,456.74 L137.4,457.21 L138.1,457.69 L138.8,458.18 L139.5,458.67 L140.2,459.19 L140.9,459.73 L141.6,460.3 L142.3,460.91 L143,461.55 L143.7,462.24 L144.4,462.98 L145.1,463.77 L145.8,464.63 L146.5,465.58 L147.2,466.67 L147.9,467.92 L148.6,469.37 L149.3,471.15 L150,473.82 L150.7,476.86" fill="none" stroke="#2ca02c" stroke-width="1.45" stroke-linejoin="round" stroke-linecap="butt" />
<circle cx="33.4" cy="384.84" r="1.5" fill="#1f77b4"/>
<circle cx="34.8" cy="385.68" r="1.5" fill="#1f77b4"/>
<circle cx="36.2" cy="384.8" r="1.5" fill="#1f77b4"/>
<circle cx="37.6" cy="385.49" r="1.5" fill="#1f77b4"/>
<circle cx="39" cy="385.14" r="1.5" fill="#1f77b4"/>
<circle cx="40.4" cy="385.53" r="1.5" fill="#1f77b4"/>
<circle cx="41.8" cy="386.22" r="1.5" fill="#1f77b4"/>
<circle cx="43.2" cy="386.16" r="1.5" fill="#1f77b4"/>
<circle cx="44.6" cy="385.75" r="1.5" fill="#1f77b4"/>
<circle cx="46" cy="386.66" r="1.5" fill="#1f77b4"/>
<circle cx="47.4" cy="386.45" r="1.5" fill="#1f77b4"/>
<circle cx="49.7" cy="386.57" r="1.5" fill="#1f77b4"/>
<circle cx="52" cy="387.2" r="1.5" fill="#1f77b4"/>
<circle cx="54.3" cy="389.44" r="1.5" fill="#1f77b4"/>
<circle cx="56.6" cy="390.79" r="1.5" fill="#1f77b4"/>
<circle cx="58.9" cy="392.95" r="1.5" fill="#1f77b4"/>
<circle cx="61.2" cy="394.43" r="1.5" fill="#1f77b4"/>
<circle cx="63.5" cy="395.25" r="1.5" fill="#1f77b4"/>
<circle cx="65.8" cy="396.34" r="1.5" fill="#1f77b4"/>
<circle cx="68.1" cy="399.09" r="1.5" fill="#1f77b4"/>
<circle cx="70.4" cy="399" r="1.5" fill="#1f77b4"/>
<circle cx="72.7" cy="400.92" r="1.5" fill="#1f77b4"/>
<circle cx="75" cy="403.56" r="1.5" fill="#1f77b4"/>
<circle cx="77.3" cy="405.33" r="1.5" fill="#1f77b4"/>
<circle cx="79.6" cy="406.03" r="1.5" fill="#1f77b4"/>
<circle cx="81.9" cy="408.76" r="1.5" fill="#1f77b4"/>
<circle cx="84.2" cy="411.24" r="1.5" fill="#1f77b4"/>
<circle cx="86.5" cy="412.55" r="1.5" fill="#1f77b4"/>
<circle cx="88.8" cy="415.69" r="1.5" fill="#1f77b4"/>
<circle cx="91.1" cy="418.52" r="1.5" fill="#1f77b4"/>
<circle cx="93.4" cy="421.52" r="1.5" fill="#1f77b4"/>
<circle cx="95.7" cy="425.44" r="1.5" fill="#1f77b4"/>
<circle cx="98" cy="426.7" r="1.5" fill="#1f77b4"/>
<circle cx="100.3" cy="427.47" r="1.5" fill="#1f77b4"/>
<circle cx="102.3" cy="429.65" r="1.5" fill="#1f77b4"/>
<circle cx="104.3" cy="431.9" r="1.5" fill="#1f77b4"/>
<circle cx="106.3" cy="434.11" r="1.5" fill="#1f77b4"/>
<circle cx="108.3" cy="436.13" r="1.5" fill="#1f77b4"/>
<circle cx="110.3" cy="437.85" r="1.5" fill="#1f77b4"/>
<circle cx="112.3" cy="439.36" r="1.5" fill="#1f77b4"/>
<circle cx="114.3" cy="440.73" r="1.5" fill="#1f77b4"/>
<circle cx="116.3" cy="442.02" r="1.5" fill="#1f77b4"/>
<circle cx="118.3" cy="443.3" r="1.5" fill="#1f77b4"/>
<circle cx="120.3" cy="444.56" r="1.5" fill="#1f77b4"/>
<circle cx="122.3" cy="445.77" r="1.5" fill="#1f77b4"/>
<circle cx="124.3" cy="446.95" r="1.5" fill="#1f77b4"/>
<circle cx="126.3" cy="448.12" r="1.5" fill="#1f77b4"/>
<circle cx="128.3" cy="449.3" r="1.5" fill="#1f77b4"/>
<circle cx="130.3" cy="450.43" r="1.5" fill="#1f77b4"/>
<circle cx="132.3" cy="451.56" r="1.5" fill="#1f77b4"/>
<circle cx="134.3" cy="452.76" r="1.5" fill="#1f77b4"/>
<circle cx="136.3" cy="454.07" r="1.5" fill="#1f77b4"/>
<circle cx="138.3" cy="455.43" r="1.5" fill="#1f77b4"/>
<circle cx="140.3" cy="456.87" r="1.5" fill="#1f77b4"/>
<circle cx="142.3" cy="458.51" r="1.5" fill="#1f77b4"/>
<circle cx="144.3" cy="460.47" r="1.5" fill="#1f77b4"/>
<circle cx="146.3" cy="462.9" r="1.5" fill="#1f77b4"/>
<circle cx="148.3" cy="466.32" r="1.5" fill="#1f77b4"/>
<circle cx="55.5" cy="387.27" r="1.3" fill="#ff7f0e"/>
<circle cx="56.35" cy="395.95" r="1.3" fill="#ff7f0e"/>
<circle cx="57.37" cy="396.49" r="1.3" fill="#ff7f0e"/>
<circle cx="58.13" cy="399.76" r="1.3" fill="#ff7f0e"/>
<circle cx="59.09" cy="392.71" r="1.3" fill="#ff7f0e"/>
<circle cx="60.06" cy="395.62" r="1.3" fill="#ff7f0e"/>
<circle cx="61.13" cy="398.58" r="1.3" fill="#ff7f0e"/>
<circle cx="61.96" cy="396.69" r="1.3" fill="#ff7f0e"/>
<circle cx="63.1" cy="399.08" r="1.3" fill="#ff7f0e"/>
<circle cx="64.19" cy="397.71" r="1.3" fill="#ff7f0e"/>
<circle cx="65.25" cy="402.13" r="1.3" fill="#ff7f0e"/>
<circle cx="66.4" cy="398.51" r="1.3" fill="#ff7f0e"/>
<circle cx="67.53" cy="395.92" r="1.3" fill="#ff7f0e"/>
<circle cx="68.64" cy="394.39" r="1.3" fill="#ff7f0e"/>
<circle cx="69.69" cy="401.76" r="1.3" fill="#ff7f0e"/>
<circle cx="70.78" cy="411.17" r="1.3" fill="#ff7f0e"/>
<circle cx="71.72" cy="405.36" r="1.3" fill="#ff7f0e"/>
<circle cx="72.58" cy="398.89" r="1.3" fill="#ff7f0e"/>
<circle cx="73.69" cy="398.18" r="1.3" fill="#ff7f0e"/>
<circle cx="74.8" cy="412.03" r="1.3" fill="#ff7f0e"/>
<circle cx="75.51" cy="411.31" r="1.3" fill="#ff7f0e"/>
<circle cx="76.71" cy="411.8" r="1.3" fill="#ff7f0e"/>
<circle cx="77.83" cy="403.92" r="1.3" fill="#ff7f0e"/>
<circle cx="79.01" cy="410.1" r="1.3" fill="#ff7f0e"/>
<circle cx="81.04" cy="412.84" r="1.3" fill="#ff7f0e"/>
<circle cx="83.33" cy="411.67" r="1.3" fill="#ff7f0e"/>
<circle cx="85.63" cy="411.59" r="1.3" fill="#ff7f0e"/>
<circle cx="87.73" cy="414.29" r="1.3" fill="#ff7f0e"/>
<circle cx="89.99" cy="421.48" r="1.3" fill="#ff7f0e"/>
<circle cx="91.9" cy="422.22" r="1.3" fill="#ff7f0e"/>
<circle cx="94.18" cy="425.26" r="1.3" fill="#ff7f0e"/>
<circle cx="96.28" cy="424.96" r="1.3" fill="#ff7f0e"/>
<circle cx="98.2" cy="430.44" r="1.3" fill="#ff7f0e"/>
<circle cx="100.73" cy="432.54" r="1.3" fill="#ff7f0e"/>
<circle cx="102.54" cy="434.52" r="1.3" fill="#ff7f0e"/>
<circle cx="104.74" cy="436.87" r="1.3" fill="#ff7f0e"/>
<circle cx="106.53" cy="438.23" r="1.3" fill="#ff7f0e"/>
<circle cx="108.27" cy="441.36" r="1.3" fill="#ff7f0e"/>
<circle cx="109.94" cy="442.64" r="1.3" fill="#ff7f0e"/>
<circle cx="111.64" cy="443.66" r="1.3" fill="#ff7f0e"/>
<circle cx="113.94" cy="444.81" r="1.3" fill="#ff7f0e"/>
<circle cx="116.18" cy="444.46" r="1.3" fill="#ff7f0e"/>
<circle cx="117.82" cy="446" r="1.3" fill="#ff7f0e"/>
<circle cx="119.97" cy="447.64" r="1.3" fill="#ff7f0e"/>
<circle cx="122.34" cy="450.85" r="1.3" fill="#ff7f0e"/>
<circle cx="124.06" cy="451.7" r="1.3" fill="#ff7f0e"/>
<circle cx="125.84" cy="451.59" r="1.3" fill="#ff7f0e"/>
<circle cx="127.72" cy="452.91" r="1.3" fill="#ff7f0e"/>
<circle cx="129.99" cy="455.25" r="1.3" fill="#ff7f0e"/>
<circle cx="131.93" cy="457.16" r="1.3" fill="#ff7f0e"/>
<circle cx="134.01" cy="457.27" r="1.3" fill="#ff7f0e"/>
<circle cx="135.93" cy="456.61" r="1.3" fill="#ff7f0e"/>
<circle cx="137.69" cy="457.57" r="1.3" fill="#ff7f0e"/>
<circle cx="139.67" cy="461.84" r="1.3" fill="#ff7f0e"/>
<circle cx="141.65" cy="463.9" r="1.3" fill="#ff7f0e"/>
<circle cx="143.59" cy="463.99" r="1.3" fill="#ff7f0e"/>
<circle cx="145.32" cy="464.66" r="1.3" fill="#ff7f0e"/>
<circle cx="147.22" cy="470.23" r="1.3" fill="#ff7f0e"/>
<circle cx="149.03" cy="471.48" r="1.3" fill="#ff7f0e"/>
</g>
<rect x="27.5" y="371.1" width="122.4" height="109.4" fill="none" stroke="#262626" stroke-width="0.95"/>
<line x1="24.3" y1="394.08" x2="27.5" y2="394.08" stroke="#262626" stroke-width="0.95"/>
<text x="21.7" y="397.68" font-size="8.8" text-anchor="end" textLength="5.28" lengthAdjust="spacingAndGlyphs" >6</text>
<line x1="24.3" y1="421.32" x2="27.5" y2="421.32" stroke="#262626" stroke-width="0.95"/>
<text x="21.7" y="424.92" font-size="8.8" text-anchor="end" textLength="5.28" lengthAdjust="spacingAndGlyphs" >4</text>
<line x1="24.3" y1="448.56" x2="27.5" y2="448.56" stroke="#262626" stroke-width="0.95"/>
<text x="21.7" y="452.16" font-size="8.8" text-anchor="end" textLength="5.28" lengthAdjust="spacingAndGlyphs" >2</text>
<line x1="24.3" y1="475.8" x2="27.5" y2="475.8" stroke="#262626" stroke-width="0.95"/>
<text x="21.7" y="479.4" font-size="8.8" text-anchor="end" textLength="5.28" lengthAdjust="spacingAndGlyphs" >0</text>
<line x1="27.5" y1="480.5" x2="27.5" y2="483.7" stroke="#262626" stroke-width="0.95"/>
<text x="27.5" y="493.4" font-size="8.8" text-anchor="middle" textLength="18.48" lengthAdjust="spacingAndGlyphs" >3.00</text>
<line x1="65.4" y1="480.5" x2="65.4" y2="483.7" stroke="#262626" stroke-width="0.95"/>
<text x="65.4" y="493.4" font-size="8.8" text-anchor="middle" textLength="18.48" lengthAdjust="spacingAndGlyphs" >3.25</text>
<line x1="103.3" y1="480.5" x2="103.3" y2="483.7" stroke="#262626" stroke-width="0.95"/>
<text x="103.3" y="493.4" font-size="8.8" text-anchor="middle" textLength="18.48" lengthAdjust="spacingAndGlyphs" >3.50</text>
<line x1="141.2" y1="480.5" x2="141.2" y2="483.7" stroke="#262626" stroke-width="0.95"/>
<text x="141.2" y="493.4" font-size="8.8" text-anchor="middle" textLength="18.48" lengthAdjust="spacingAndGlyphs" >3.75</text>
<text x="88.7" y="502.9" font-size="8.8" text-anchor="middle" textLength="22.97" lengthAdjust="spacingAndGlyphs" >R [m]</text>
<rect x="30.2" y="446" width="42.1" height="31.1" rx="2" ry="2" fill="#ffffff" fill-opacity="0.8" stroke="#cccccc" stroke-width="0.9"/>
<line x1="32.8" y1="451.8" x2="47.2" y2="451.8" stroke="#2ca02c" stroke-width="1.45"/>
<line x1="39.9" y1="457.8" x2="39.9" y2="464.8" stroke="#1f77b4" stroke-width="1.3"/>
<line x1="39.9" y1="467.3" x2="39.9" y2="474.3" stroke="#ff7f0e" stroke-width="1.3"/>
<circle cx="39.9" cy="461.3" r="1.8" fill="#1f77b4"/>
<circle cx="39.9" cy="470.8" r="1.8" fill="#ff7f0e"/>
<text x="51.9" y="454.3" font-size="7.21" text-anchor="start" textLength="6.95" lengthAdjust="spacingAndGlyphs" >fit</text>
<text x="51.9" y="463.8" font-size="7.21" text-anchor="start" textLength="13.34" lengthAdjust="spacingAndGlyphs" >ECE</text>
<text x="51.9" y="473.3" font-size="7.21" text-anchor="start" textLength="18.31" lengthAdjust="spacingAndGlyphs" >HRTS</text>
<text transform="translate(12.1,425.8) rotate(-90)" x="0" y="0" font-size="9.2" text-anchor="middle" textLength="33" lengthAdjust="spacingAndGlyphs"><tspan font-style="italic">T</tspan><tspan style="stroke-width:0.06px" font-size="6.4" dy="1.9" font-style="italic">e</tspan><tspan dy="-1.9"> [keV]</tspan></text>
<clipPath id="c7"><rect x="198.9" y="261.9" width="122.5" height="109.2"/></clipPath>
<g clip-path="url(#c7)">
<line x1="232.1" y1="278.3" x2="232.1" y2="302.5" stroke="#ff7f0e" stroke-width="1.3"/>
<line x1="229.6" y1="278.3" x2="234.6" y2="278.3" stroke="#ff7f0e" stroke-width="1.3"/>
<line x1="229.6" y1="302.5" x2="234.6" y2="302.5" stroke="#ff7f0e" stroke-width="1.3"/>
<line x1="234" y1="278.3" x2="234" y2="302.5" stroke="#ff7f0e" stroke-width="1.3"/>
<line x1="231.5" y1="278.3" x2="236.5" y2="278.3" stroke="#ff7f0e" stroke-width="1.3"/>
<line x1="231.5" y1="302.5" x2="236.5" y2="302.5" stroke="#ff7f0e" stroke-width="1.3"/>
<line x1="238.9" y1="279.3" x2="238.9" y2="302.5" stroke="#ff7f0e" stroke-width="1.3"/>
<line x1="236.4" y1="279.3" x2="241.4" y2="279.3" stroke="#ff7f0e" stroke-width="1.3"/>
<line x1="236.4" y1="302.5" x2="241.4" y2="302.5" stroke="#ff7f0e" stroke-width="1.3"/>
<line x1="242.9" y1="282.2" x2="242.9" y2="305.4" stroke="#ff7f0e" stroke-width="1.3"/>
<line x1="240.4" y1="282.2" x2="245.4" y2="282.2" stroke="#ff7f0e" stroke-width="1.3"/>
<line x1="240.4" y1="305.4" x2="245.4" y2="305.4" stroke="#ff7f0e" stroke-width="1.3"/>
<line x1="254.3" y1="294.4" x2="254.3" y2="314.4" stroke="#ff7f0e" stroke-width="1.3"/>
<line x1="251.8" y1="294.4" x2="256.8" y2="294.4" stroke="#ff7f0e" stroke-width="1.3"/>
<line x1="251.8" y1="314.4" x2="256.8" y2="314.4" stroke="#ff7f0e" stroke-width="1.3"/>
<line x1="260.2" y1="302.2" x2="260.2" y2="320" stroke="#ff7f0e" stroke-width="1.3"/>
<line x1="257.7" y1="302.2" x2="262.7" y2="302.2" stroke="#ff7f0e" stroke-width="1.3"/>
<line x1="257.7" y1="320" x2="262.7" y2="320" stroke="#ff7f0e" stroke-width="1.3"/>
<line x1="267" y1="312.5" x2="267" y2="328.4" stroke="#ff7f0e" stroke-width="1.3"/>
<line x1="264.5" y1="312.5" x2="269.5" y2="312.5" stroke="#ff7f0e" stroke-width="1.3"/>
<line x1="264.5" y1="328.4" x2="269.5" y2="328.4" stroke="#ff7f0e" stroke-width="1.3"/>
<line x1="280.5" y1="332.1" x2="280.5" y2="342.4" stroke="#ff7f0e" stroke-width="1.3"/>
<line x1="278" y1="332.1" x2="283" y2="332.1" stroke="#ff7f0e" stroke-width="1.3"/>
<line x1="278" y1="342.4" x2="283" y2="342.4" stroke="#ff7f0e" stroke-width="1.3"/>
<line x1="287.4" y1="338.3" x2="287.4" y2="348.1" stroke="#ff7f0e" stroke-width="1.3"/>
<line x1="284.9" y1="338.3" x2="289.9" y2="338.3" stroke="#ff7f0e" stroke-width="1.3"/>
<line x1="284.9" y1="348.1" x2="289.9" y2="348.1" stroke="#ff7f0e" stroke-width="1.3"/>
<line x1="295.1" y1="341.5" x2="295.1" y2="349.9" stroke="#ff7f0e" stroke-width="1.3"/>
<line x1="292.6" y1="341.5" x2="297.6" y2="341.5" stroke="#ff7f0e" stroke-width="1.3"/>
<line x1="292.6" y1="349.9" x2="297.6" y2="349.9" stroke="#ff7f0e" stroke-width="1.3"/>
<line x1="302.6" y1="348.1" x2="302.6" y2="354.6" stroke="#ff7f0e" stroke-width="1.3"/>
<line x1="300.1" y1="348.1" x2="305.1" y2="348.1" stroke="#ff7f0e" stroke-width="1.3"/>
<line x1="300.1" y1="354.6" x2="305.1" y2="354.6" stroke="#ff7f0e" stroke-width="1.3"/>
<line x1="310.4" y1="349.9" x2="310.4" y2="355.5" stroke="#ff7f0e" stroke-width="1.3"/>
<line x1="307.9" y1="349.9" x2="312.9" y2="349.9" stroke="#ff7f0e" stroke-width="1.3"/>
<line x1="307.9" y1="355.5" x2="312.9" y2="355.5" stroke="#ff7f0e" stroke-width="1.3"/>
<line x1="224" y1="266.8" x2="224" y2="293.8" stroke="#1f77b4" stroke-width="1.3"/>
<line x1="221.5" y1="266.8" x2="226.5" y2="266.8" stroke="#1f77b4" stroke-width="1.3"/>
<line x1="221.5" y1="293.8" x2="226.5" y2="293.8" stroke="#1f77b4" stroke-width="1.3"/>
<line x1="235.2" y1="277" x2="235.2" y2="301.5" stroke="#1f77b4" stroke-width="1.3"/>
<line x1="232.7" y1="277" x2="237.7" y2="277" stroke="#1f77b4" stroke-width="1.3"/>
<line x1="232.7" y1="301.5" x2="237.7" y2="301.5" stroke="#1f77b4" stroke-width="1.3"/>
<line x1="245.8" y1="288" x2="245.8" y2="310.2" stroke="#1f77b4" stroke-width="1.3"/>
<line x1="243.3" y1="288" x2="248.3" y2="288" stroke="#1f77b4" stroke-width="1.3"/>
<line x1="243.3" y1="310.2" x2="248.3" y2="310.2" stroke="#1f77b4" stroke-width="1.3"/>
<line x1="257.8" y1="301.5" x2="257.8" y2="319.5" stroke="#1f77b4" stroke-width="1.3"/>
<line x1="255.3" y1="301.5" x2="260.3" y2="301.5" stroke="#1f77b4" stroke-width="1.3"/>
<line x1="255.3" y1="319.5" x2="260.3" y2="319.5" stroke="#1f77b4" stroke-width="1.3"/>
<line x1="268.9" y1="316.2" x2="268.9" y2="330.8" stroke="#1f77b4" stroke-width="1.3"/>
<line x1="266.4" y1="316.2" x2="271.4" y2="316.2" stroke="#1f77b4" stroke-width="1.3"/>
<line x1="266.4" y1="330.8" x2="271.4" y2="330.8" stroke="#1f77b4" stroke-width="1.3"/>
<line x1="279.5" y1="330.3" x2="279.5" y2="341.5" stroke="#1f77b4" stroke-width="1.3"/>
<line x1="277" y1="330.3" x2="282" y2="330.3" stroke="#1f77b4" stroke-width="1.3"/>
<line x1="277" y1="341.5" x2="282" y2="341.5" stroke="#1f77b4" stroke-width="1.3"/>
<line x1="290.2" y1="341.5" x2="290.2" y2="349.6" stroke="#1f77b4" stroke-width="1.3"/>
<line x1="287.7" y1="341.5" x2="292.7" y2="341.5" stroke="#1f77b4" stroke-width="1.3"/>
<line x1="287.7" y1="349.6" x2="292.7" y2="349.6" stroke="#1f77b4" stroke-width="1.3"/>
<line x1="300.7" y1="348.4" x2="300.7" y2="353.7" stroke="#1f77b4" stroke-width="1.3"/>
<line x1="298.2" y1="348.4" x2="303.2" y2="348.4" stroke="#1f77b4" stroke-width="1.3"/>
<line x1="298.2" y1="353.7" x2="303.2" y2="353.7" stroke="#1f77b4" stroke-width="1.3"/>
<line x1="311.4" y1="352.7" x2="311.4" y2="358.4" stroke="#1f77b4" stroke-width="1.3"/>
<line x1="308.9" y1="352.7" x2="313.9" y2="352.7" stroke="#1f77b4" stroke-width="1.3"/>
<line x1="308.9" y1="358.4" x2="313.9" y2="358.4" stroke="#1f77b4" stroke-width="1.3"/>
<line x1="231.7" y1="288.6" x2="256.3" y2="288.6" stroke="#2ca02c" stroke-width="1.3"/>
<line x1="244" y1="276" x2="244" y2="301.2" stroke="#2ca02c" stroke-width="1.3"/>
<line x1="241.7" y1="276" x2="246.3" y2="276" stroke="#2ca02c" stroke-width="1.3"/>
<line x1="241.7" y1="301.2" x2="246.3" y2="301.2" stroke="#2ca02c" stroke-width="1.3"/>
<line x1="231.7" y1="286.3" x2="231.7" y2="290.9" stroke="#2ca02c" stroke-width="1.3"/>
<line x1="256.3" y1="286.3" x2="256.3" y2="290.9" stroke="#2ca02c" stroke-width="1.3"/>
<path d="M198.9,286.4 L199.4,286.38 L199.9,286.37 L200.4,286.35 L200.9,286.34 L201.4,286.33 L201.9,286.31 L202.4,286.3 L202.9,286.29 L203.4,286.28 L203.9,286.27 L204.4,286.26 L204.9,286.25 L205.4,286.24 L205.9,286.24 L206.4,286.23 L206.9,286.23 L207.4,286.22 L207.9,286.22 L208.4,286.22 L208.9,286.21 L209.4,286.21 L209.9,286.21 L210.4,286.21 L210.9,286.21 L211.4,286.21 L211.9,286.22 L212.4,286.22 L212.9,286.23 L213.4,286.24 L213.9,286.26 L214.4,286.28 L214.9,286.3 L215.4,286.33 L215.9,286.36 L216.4,286.4 L216.9,286.44 L217.4,286.49 L217.9,286.54 L218.4,286.59 L218.9,286.65 L219.4,286.72 L219.9,286.79 L220.4,286.86 L220.9,286.93 L221.4,287.01 L221.9,287.09 L222.4,287.18 L222.9,287.26 L223.4,287.36 L223.9,287.45 L224.4,287.55 L224.9,287.65 L225.4,287.76 L225.9,287.88 L226.4,288 L226.9,288.12 L227.4,288.25 L227.9,288.39 L228.4,288.53 L228.9,288.67 L229.4,288.82 L229.9,288.98 L230.4,289.14 L230.9,289.3 L231.4,289.47 L231.9,289.65 L232.4,289.82 L232.9,290.01 L233.4,290.19 L233.9,290.38 L234.4,290.58 L234.9,290.78 L235.4,290.98 L235.9,291.19 L236.4,291.41 L236.9,291.63 L237.4,291.86 L237.9,292.1 L238.4,292.34 L238.9,292.58 L239.4,292.84 L239.9,293.1 L240.4,293.36 L240.9,293.64 L241.4,293.92 L241.9,294.2 L242.4,294.5 L242.9,294.8 L243.4,295.11 L243.9,295.43 L244.4,295.76 L244.9,296.1 L245.4,296.45 L245.9,296.8 L246.4,297.17 L246.9,297.55 L247.4,297.93 L247.9,298.33 L248.4,298.74 L248.9,299.16 L249.4,299.6 L249.9,300.04 L250.4,300.49 L250.9,300.96 L251.4,301.43 L251.9,301.91 L252.4,302.41 L252.9,302.91 L253.4,303.42 L253.9,303.93 L254.4,304.46 L254.9,304.99 L255.4,305.52 L255.9,306.06 L256.4,306.61 L256.9,307.16 L257.4,307.72 L257.9,308.29 L258.4,308.85 L258.9,309.43 L259.4,310 L259.9,310.58 L260.4,311.16 L260.9,311.75 L261.4,312.33 L261.9,312.92 L262.4,313.51 L262.9,314.1 L263.4,314.69 L263.9,315.27 L264.4,315.86 L264.9,316.45 L265.4,317.03 L265.9,317.61 L266.4,318.19 L266.9,318.76 L267.4,319.33 L267.9,319.9 L268.4,320.47 L268.9,321.03 L269.4,321.59 L269.9,322.15 L270.4,322.71 L270.9,323.26 L271.4,323.81 L271.9,324.36 L272.4,324.91 L272.9,325.46 L273.4,326.01 L273.9,326.55 L274.4,327.1 L274.9,327.64 L275.4,328.18 L275.9,328.71 L276.4,329.25 L276.9,329.78 L277.4,330.3 L277.9,330.83 L278.4,331.35 L278.9,331.86 L279.4,332.37 L279.9,332.88 L280.4,333.38 L280.9,333.87 L281.4,334.36 L281.9,334.85 L282.4,335.32 L282.9,335.8 L283.4,336.26 L283.9,336.72 L284.4,337.18 L284.9,337.63 L285.4,338.07 L285.9,338.51 L286.4,338.94 L286.9,339.37 L287.4,339.8 L287.9,340.21 L288.4,340.63 L288.9,341.04 L289.4,341.45 L289.9,341.85 L290.4,342.25 L290.9,342.65 L291.4,343.04 L291.9,343.43 L292.4,343.82 L292.9,344.2 L293.4,344.59 L293.9,344.96 L294.4,345.34 L294.9,345.71 L295.4,346.08 L295.9,346.45 L296.4,346.81 L296.9,347.17 L297.4,347.52 L297.9,347.87 L298.4,348.22 L298.9,348.57 L299.4,348.91 L299.9,349.25 L300.4,349.58 L300.9,349.92 L301.4,350.25 L301.9,350.59 L302.4,350.92 L302.9,351.25 L303.4,351.58 L303.9,351.92 L304.4,352.25 L304.9,352.59 L305.4,352.93 L305.9,353.28 L306.4,353.62 L306.9,353.98 L307.4,354.33 L307.9,354.69 L308.4,355.06 L308.9,355.43 L309.4,355.81 L309.9,356.19 L310.4,356.58 L310.9,356.97 L311.4,357.37 L311.9,357.78 L312.4,358.19 L312.9,358.61 L313.4,359.03 L313.9,359.46 L314.4,359.9 L314.9,360.34 L315.4,360.78 L315.9,361.23 L316.4,361.68 L316.9,362.14 L317.4,362.6 L317.9,363.07 L318.4,363.54 L318.9,364.01 L319.4,364.49 L319.9,364.97 L320.4,365.45 L320.9,365.93 L321.4,366.42 L321.9,366.9" fill="none" stroke="#d62728" stroke-width="1.45" stroke-linejoin="round" stroke-linecap="butt" />
<circle cx="232.1" cy="290.9" r="1.7" fill="#ff7f0e"/>
<circle cx="234" cy="291.5" r="1.7" fill="#ff7f0e"/>
<circle cx="238.9" cy="291.9" r="1.7" fill="#ff7f0e"/>
<circle cx="242.9" cy="293.8" r="1.7" fill="#ff7f0e"/>
<circle cx="254.3" cy="304.4" r="1.7" fill="#ff7f0e"/>
<circle cx="260.2" cy="308.7" r="1.7" fill="#ff7f0e"/>
<circle cx="267" cy="320" r="1.7" fill="#ff7f0e"/>
<circle cx="280.5" cy="337.8" r="1.7" fill="#ff7f0e"/>
<circle cx="287.4" cy="343.4" r="1.7" fill="#ff7f0e"/>
<circle cx="295.1" cy="345.2" r="1.7" fill="#ff7f0e"/>
<circle cx="302.6" cy="350.9" r="1.7" fill="#ff7f0e"/>
<circle cx="310.4" cy="352.7" r="1.7" fill="#ff7f0e"/>
<circle cx="224" cy="279.9" r="1.7" fill="#1f77b4"/>
<circle cx="235.2" cy="288.6" r="1.7" fill="#1f77b4"/>
<circle cx="245.8" cy="298.6" r="1.7" fill="#1f77b4"/>
<circle cx="257.8" cy="310.6" r="1.7" fill="#1f77b4"/>
<circle cx="268.9" cy="322.8" r="1.7" fill="#1f77b4"/>
<circle cx="279.5" cy="335" r="1.7" fill="#1f77b4"/>
<circle cx="290.2" cy="345.2" r="1.7" fill="#1f77b4"/>
<circle cx="300.7" cy="350.9" r="1.7" fill="#1f77b4"/>
<circle cx="311.4" cy="355.5" r="1.7" fill="#1f77b4"/>
</g>
<rect x="198.9" y="261.9" width="122.5" height="109.2" fill="none" stroke="#262626" stroke-width="0.95"/>
<line x1="195.7" y1="264.55" x2="198.9" y2="264.55" stroke="#262626" stroke-width="0.95"/>
<text x="193.1" y="268.15" font-size="8.8" text-anchor="end" textLength="18.48" lengthAdjust="spacingAndGlyphs" >12.5</text>
<line x1="195.7" y1="286" x2="198.9" y2="286" stroke="#262626" stroke-width="0.95"/>
<text x="193.1" y="289.6" font-size="8.8" text-anchor="end" textLength="18.48" lengthAdjust="spacingAndGlyphs" >10.0</text>
<line x1="195.7" y1="307.45" x2="198.9" y2="307.45" stroke="#262626" stroke-width="0.95"/>
<text x="193.1" y="311.05" font-size="8.8" text-anchor="end" textLength="13.2" lengthAdjust="spacingAndGlyphs" >7.5</text>
<line x1="195.7" y1="328.9" x2="198.9" y2="328.9" stroke="#262626" stroke-width="0.95"/>
<text x="193.1" y="332.5" font-size="8.8" text-anchor="end" textLength="13.2" lengthAdjust="spacingAndGlyphs" >5.0</text>
<line x1="195.7" y1="350.35" x2="198.9" y2="350.35" stroke="#262626" stroke-width="0.95"/>
<text x="193.1" y="353.95" font-size="8.8" text-anchor="end" textLength="13.2" lengthAdjust="spacingAndGlyphs" >2.5</text>
<rect x="202.4" y="327.1" width="52.5" height="40.2" rx="2" ry="2" fill="#ffffff" fill-opacity="0.8" stroke="#cccccc" stroke-width="0.9"/>
<line x1="204.7" y1="332.5" x2="218.8" y2="332.5" stroke="#d62728" stroke-width="1.45"/>
<line x1="210.5" y1="338.7" x2="210.5" y2="345.7" stroke="#1f77b4" stroke-width="1.2"/>
<line x1="208.2" y1="338.7" x2="212.8" y2="338.7" stroke="#1f77b4" stroke-width="1.2"/>
<line x1="208.2" y1="345.7" x2="212.8" y2="345.7" stroke="#1f77b4" stroke-width="1.2"/>
<line x1="210.5" y1="348.4" x2="210.5" y2="355.4" stroke="#ff7f0e" stroke-width="1.2"/>
<line x1="208.2" y1="348.4" x2="212.8" y2="348.4" stroke="#ff7f0e" stroke-width="1.2"/>
<line x1="208.2" y1="355.4" x2="212.8" y2="355.4" stroke="#ff7f0e" stroke-width="1.2"/>
<line x1="207" y1="361.5" x2="214" y2="361.5" stroke="#2ca02c" stroke-width="1.4"/>
<line x1="210.5" y1="358" x2="210.5" y2="365" stroke="#2ca02c" stroke-width="1.4"/>
<line x1="208.3" y1="358" x2="212.7" y2="358" stroke="#2ca02c" stroke-width="1.4"/>
<line x1="208.3" y1="365" x2="212.7" y2="365" stroke="#2ca02c" stroke-width="1.4"/>
<line x1="207" y1="359.3" x2="207" y2="363.7" stroke="#2ca02c" stroke-width="1.4"/>
<line x1="214" y1="359.3" x2="214" y2="363.7" stroke="#2ca02c" stroke-width="1.4"/>
<circle cx="210.5" cy="342.2" r="1.8" fill="#1f77b4"/>
<circle cx="210.5" cy="351.9" r="1.8" fill="#ff7f0e"/>
<text x="223" y="335" font-size="7.21" text-anchor="start" textLength="6.95" lengthAdjust="spacingAndGlyphs" >fit</text>
<text x="223" y="344.7" font-size="7.21" text-anchor="start" textLength="25.85" lengthAdjust="spacingAndGlyphs" >CXRS D</text>
<text x="223" y="354.4" font-size="7.21" text-anchor="start" textLength="29.88" lengthAdjust="spacingAndGlyphs" >CXRS Ne</text>
<text x="223" y="364" font-size="7.21" text-anchor="start" textLength="13.72" lengthAdjust="spacingAndGlyphs" >XCS</text>
<text transform="translate(170.3,316.2) rotate(-90)" x="0" y="0" font-size="9.2" text-anchor="middle" textLength="30.5" lengthAdjust="spacingAndGlyphs"><tspan font-style="italic">T</tspan><tspan style="stroke-width:0.06px" font-size="6.4" dy="1.9" font-style="italic">i</tspan><tspan dy="-1.9"> [keV]</tspan></text>
<clipPath id="c8"><rect x="198.9" y="371.1" width="122.5" height="109.4"/></clipPath>
<g clip-path="url(#c8)">
<line x1="231.7" y1="375.7" x2="231.7" y2="403.8" stroke="#ff7f0e" stroke-width="1.3"/>
<line x1="229.2" y1="375.7" x2="234.2" y2="375.7" stroke="#ff7f0e" stroke-width="1.3"/>
<line x1="229.2" y1="403.8" x2="234.2" y2="403.8" stroke="#ff7f0e" stroke-width="1.3"/>
<line x1="234.9" y1="381.7" x2="234.9" y2="407.6" stroke="#ff7f0e" stroke-width="1.3"/>
<line x1="232.4" y1="381.7" x2="237.4" y2="381.7" stroke="#ff7f0e" stroke-width="1.3"/>
<line x1="232.4" y1="407.6" x2="237.4" y2="407.6" stroke="#ff7f0e" stroke-width="1.3"/>
<line x1="238.8" y1="387.4" x2="238.8" y2="413.6" stroke="#ff7f0e" stroke-width="1.3"/>
<line x1="236.3" y1="387.4" x2="241.3" y2="387.4" stroke="#ff7f0e" stroke-width="1.3"/>
<line x1="236.3" y1="413.6" x2="241.3" y2="413.6" stroke="#ff7f0e" stroke-width="1.3"/>
<line x1="243" y1="393.5" x2="243" y2="417" stroke="#ff7f0e" stroke-width="1.3"/>
<line x1="240.5" y1="393.5" x2="245.5" y2="393.5" stroke="#ff7f0e" stroke-width="1.3"/>
<line x1="240.5" y1="417" x2="245.5" y2="417" stroke="#ff7f0e" stroke-width="1.3"/>
<line x1="254.2" y1="401" x2="254.2" y2="422.9" stroke="#ff7f0e" stroke-width="1.3"/>
<line x1="251.7" y1="401" x2="256.7" y2="401" stroke="#ff7f0e" stroke-width="1.3"/>
<line x1="251.7" y1="422.9" x2="256.7" y2="422.9" stroke="#ff7f0e" stroke-width="1.3"/>
<line x1="260.2" y1="405.6" x2="260.2" y2="425.3" stroke="#ff7f0e" stroke-width="1.3"/>
<line x1="257.7" y1="405.6" x2="262.7" y2="405.6" stroke="#ff7f0e" stroke-width="1.3"/>
<line x1="257.7" y1="425.3" x2="262.7" y2="425.3" stroke="#ff7f0e" stroke-width="1.3"/>
<line x1="266.4" y1="412.7" x2="266.4" y2="430.9" stroke="#ff7f0e" stroke-width="1.3"/>
<line x1="263.9" y1="412.7" x2="268.9" y2="412.7" stroke="#ff7f0e" stroke-width="1.3"/>
<line x1="263.9" y1="430.9" x2="268.9" y2="430.9" stroke="#ff7f0e" stroke-width="1.3"/>
<line x1="280.5" y1="428.1" x2="280.5" y2="440.3" stroke="#ff7f0e" stroke-width="1.3"/>
<line x1="278" y1="428.1" x2="283" y2="428.1" stroke="#ff7f0e" stroke-width="1.3"/>
<line x1="278" y1="440.3" x2="283" y2="440.3" stroke="#ff7f0e" stroke-width="1.3"/>
<line x1="287.4" y1="434.6" x2="287.4" y2="447.8" stroke="#ff7f0e" stroke-width="1.3"/>
<line x1="284.9" y1="434.6" x2="289.9" y2="434.6" stroke="#ff7f0e" stroke-width="1.3"/>
<line x1="284.9" y1="447.8" x2="289.9" y2="447.8" stroke="#ff7f0e" stroke-width="1.3"/>
<line x1="295.1" y1="441.6" x2="295.1" y2="450.6" stroke="#ff7f0e" stroke-width="1.3"/>
<line x1="292.6" y1="441.6" x2="297.6" y2="441.6" stroke="#ff7f0e" stroke-width="1.3"/>
<line x1="292.6" y1="450.6" x2="297.6" y2="450.6" stroke="#ff7f0e" stroke-width="1.3"/>
<line x1="302.6" y1="447.8" x2="302.6" y2="455.2" stroke="#ff7f0e" stroke-width="1.3"/>
<line x1="300.1" y1="447.8" x2="305.1" y2="447.8" stroke="#ff7f0e" stroke-width="1.3"/>
<line x1="300.1" y1="455.2" x2="305.1" y2="455.2" stroke="#ff7f0e" stroke-width="1.3"/>
<line x1="310.4" y1="453.9" x2="310.4" y2="459.6" stroke="#ff7f0e" stroke-width="1.3"/>
<line x1="307.9" y1="453.9" x2="312.9" y2="453.9" stroke="#ff7f0e" stroke-width="1.3"/>
<line x1="307.9" y1="459.6" x2="312.9" y2="459.6" stroke="#ff7f0e" stroke-width="1.3"/>
<line x1="223.8" y1="395.4" x2="223.8" y2="417.9" stroke="#1f77b4" stroke-width="1.3"/>
<line x1="221.3" y1="395.4" x2="226.3" y2="395.4" stroke="#1f77b4" stroke-width="1.3"/>
<line x1="221.3" y1="417.9" x2="226.3" y2="417.9" stroke="#1f77b4" stroke-width="1.3"/>
<line x1="235.5" y1="398.2" x2="235.5" y2="421.1" stroke="#1f77b4" stroke-width="1.3"/>
<line x1="233" y1="398.2" x2="238" y2="398.2" stroke="#1f77b4" stroke-width="1.3"/>
<line x1="233" y1="421.1" x2="238" y2="421.1" stroke="#1f77b4" stroke-width="1.3"/>
<line x1="246.3" y1="405.3" x2="246.3" y2="425.9" stroke="#1f77b4" stroke-width="1.3"/>
<line x1="243.8" y1="405.3" x2="248.8" y2="405.3" stroke="#1f77b4" stroke-width="1.3"/>
<line x1="243.8" y1="425.9" x2="248.8" y2="425.9" stroke="#1f77b4" stroke-width="1.3"/>
<line x1="257.9" y1="411.7" x2="257.9" y2="430.4" stroke="#1f77b4" stroke-width="1.3"/>
<line x1="255.4" y1="411.7" x2="260.4" y2="411.7" stroke="#1f77b4" stroke-width="1.3"/>
<line x1="255.4" y1="430.4" x2="260.4" y2="430.4" stroke="#1f77b4" stroke-width="1.3"/>
<line x1="268.9" y1="424.3" x2="268.9" y2="439.3" stroke="#1f77b4" stroke-width="1.3"/>
<line x1="266.4" y1="424.3" x2="271.4" y2="424.3" stroke="#1f77b4" stroke-width="1.3"/>
<line x1="266.4" y1="439.3" x2="271.4" y2="439.3" stroke="#1f77b4" stroke-width="1.3"/>
<line x1="279.5" y1="435.6" x2="279.5" y2="447.8" stroke="#1f77b4" stroke-width="1.3"/>
<line x1="277" y1="435.6" x2="282" y2="435.6" stroke="#1f77b4" stroke-width="1.3"/>
<line x1="277" y1="447.8" x2="282" y2="447.8" stroke="#1f77b4" stroke-width="1.3"/>
<line x1="290.2" y1="444.9" x2="290.2" y2="454.3" stroke="#1f77b4" stroke-width="1.3"/>
<line x1="287.7" y1="444.9" x2="292.7" y2="444.9" stroke="#1f77b4" stroke-width="1.3"/>
<line x1="287.7" y1="454.3" x2="292.7" y2="454.3" stroke="#1f77b4" stroke-width="1.3"/>
<line x1="300.7" y1="452.1" x2="300.7" y2="459.6" stroke="#1f77b4" stroke-width="1.3"/>
<line x1="298.2" y1="452.1" x2="303.2" y2="452.1" stroke="#1f77b4" stroke-width="1.3"/>
<line x1="298.2" y1="459.6" x2="303.2" y2="459.6" stroke="#1f77b4" stroke-width="1.3"/>
<line x1="311.4" y1="461.8" x2="311.4" y2="468.4" stroke="#1f77b4" stroke-width="1.3"/>
<line x1="308.9" y1="461.8" x2="313.9" y2="461.8" stroke="#1f77b4" stroke-width="1.3"/>
<line x1="308.9" y1="468.4" x2="313.9" y2="468.4" stroke="#1f77b4" stroke-width="1.3"/>
<line x1="231.7" y1="428.2" x2="256.1" y2="428.2" stroke="#2ca02c" stroke-width="1.3"/>
<line x1="243.9" y1="420.5" x2="243.9" y2="435.9" stroke="#2ca02c" stroke-width="1.3"/>
<line x1="241.6" y1="420.5" x2="246.2" y2="420.5" stroke="#2ca02c" stroke-width="1.3"/>
<line x1="241.6" y1="435.9" x2="246.2" y2="435.9" stroke="#2ca02c" stroke-width="1.3"/>
<line x1="231.7" y1="425.9" x2="231.7" y2="430.5" stroke="#2ca02c" stroke-width="1.3"/>
<line x1="256.1" y1="425.9" x2="256.1" y2="430.5" stroke="#2ca02c" stroke-width="1.3"/>
<path d="M198.9,405.2 L199.4,405.16 L199.9,405.12 L200.4,405.08 L200.9,405.04 L201.4,405 L201.9,404.97 L202.4,404.93 L202.9,404.9 L203.4,404.88 L203.9,404.85 L204.4,404.83 L204.9,404.81 L205.4,404.79 L205.9,404.77 L206.4,404.76 L206.9,404.75 L207.4,404.74 L207.9,404.74 L208.4,404.74 L208.9,404.74 L209.4,404.74 L209.9,404.75 L210.4,404.76 L210.9,404.77 L211.4,404.79 L211.9,404.81 L212.4,404.83 L212.9,404.86 L213.4,404.89 L213.9,404.92 L214.4,404.96 L214.9,405 L215.4,405.04 L215.9,405.08 L216.4,405.13 L216.9,405.18 L217.4,405.23 L217.9,405.29 L218.4,405.34 L218.9,405.4 L219.4,405.47 L219.9,405.53 L220.4,405.61 L220.9,405.68 L221.4,405.76 L221.9,405.84 L222.4,405.93 L222.9,406.03 L223.4,406.12 L223.9,406.23 L224.4,406.34 L224.9,406.45 L225.4,406.57 L225.9,406.69 L226.4,406.82 L226.9,406.95 L227.4,407.08 L227.9,407.22 L228.4,407.36 L228.9,407.5 L229.4,407.64 L229.9,407.78 L230.4,407.93 L230.9,408.08 L231.4,408.23 L231.9,408.37 L232.4,408.52 L232.9,408.68 L233.4,408.83 L233.9,408.98 L234.4,409.13 L234.9,409.29 L235.4,409.45 L235.9,409.6 L236.4,409.76 L236.9,409.92 L237.4,410.09 L237.9,410.25 L238.4,410.42 L238.9,410.59 L239.4,410.77 L239.9,410.94 L240.4,411.12 L240.9,411.3 L241.4,411.48 L241.9,411.66 L242.4,411.85 L242.9,412.04 L243.4,412.23 L243.9,412.43 L244.4,412.62 L244.9,412.82 L245.4,413.02 L245.9,413.22 L246.4,413.43 L246.9,413.64 L247.4,413.85 L247.9,414.06 L248.4,414.28 L248.9,414.5 L249.4,414.72 L249.9,414.95 L250.4,415.18 L250.9,415.41 L251.4,415.64 L251.9,415.88 L252.4,416.12 L252.9,416.37 L253.4,416.62 L253.9,416.87 L254.4,417.12 L254.9,417.38 L255.4,417.64 L255.9,417.91 L256.4,418.18 L256.9,418.46 L257.4,418.74 L257.9,419.02 L258.4,419.31 L258.9,419.61 L259.4,419.91 L259.9,420.21 L260.4,420.52 L260.9,420.84 L261.4,421.16 L261.9,421.48 L262.4,421.81 L262.9,422.15 L263.4,422.49 L263.9,422.84 L264.4,423.19 L264.9,423.55 L265.4,423.91 L265.9,424.28 L266.4,424.65 L266.9,425.02 L267.4,425.4 L267.9,425.78 L268.4,426.16 L268.9,426.55 L269.4,426.94 L269.9,427.33 L270.4,427.72 L270.9,428.12 L271.4,428.52 L271.9,428.92 L272.4,429.32 L272.9,429.72 L273.4,430.12 L273.9,430.53 L274.4,430.94 L274.9,431.34 L275.4,431.75 L275.9,432.16 L276.4,432.58 L276.9,432.99 L277.4,433.41 L277.9,433.82 L278.4,434.24 L278.9,434.67 L279.4,435.09 L279.9,435.52 L280.4,435.95 L280.9,436.39 L281.4,436.83 L281.9,437.26 L282.4,437.71 L282.9,438.15 L283.4,438.6 L283.9,439.05 L284.4,439.5 L284.9,439.95 L285.4,440.4 L285.9,440.86 L286.4,441.31 L286.9,441.77 L287.4,442.23 L287.9,442.68 L288.4,443.14 L288.9,443.6 L289.4,444.06 L289.9,444.52 L290.4,444.97 L290.9,445.43 L291.4,445.89 L291.9,446.34 L292.4,446.79 L292.9,447.25 L293.4,447.7 L293.9,448.14 L294.4,448.59 L294.9,449.03 L295.4,449.48 L295.9,449.91 L296.4,450.35 L296.9,450.78 L297.4,451.22 L297.9,451.65 L298.4,452.07 L298.9,452.5 L299.4,452.92 L299.9,453.34 L300.4,453.77 L300.9,454.19 L301.4,454.61 L301.9,455.03 L302.4,455.46 L302.9,455.88 L303.4,456.31 L303.9,456.74 L304.4,457.18 L304.9,457.62 L305.4,458.06 L305.9,458.5 L306.4,458.96 L306.9,459.41 L307.4,459.88 L307.9,460.35 L308.4,460.82 L308.9,461.31 L309.4,461.8 L309.9,462.3 L310.4,462.81 L310.9,463.32 L311.4,463.84 L311.9,464.38 L312.4,464.92 L312.9,465.46 L313.4,466.02 L313.9,466.58 L314.4,467.16 L314.9,467.73 L315.4,468.32 L315.9,468.91 L316.4,469.52 L316.9,470.12 L317.4,470.74 L317.9,471.36 L318.4,471.98 L318.9,472.61 L319.4,473.25 L319.9,473.88 L320.4,474.53 L320.9,475.17 L321.4,475.82 L321.9,476.47" fill="none" stroke="#d62728" stroke-width="1.45" stroke-linejoin="round" stroke-linecap="butt" />
<circle cx="231.7" cy="390.4" r="1.7" fill="#ff7f0e"/>
<circle cx="234.9" cy="395" r="1.7" fill="#ff7f0e"/>
<circle cx="238.8" cy="400.1" r="1.7" fill="#ff7f0e"/>
<circle cx="243" cy="405.3" r="1.7" fill="#ff7f0e"/>
<circle cx="254.2" cy="411.7" r="1.7" fill="#ff7f0e"/>
<circle cx="260.2" cy="415" r="1.7" fill="#ff7f0e"/>
<circle cx="266.4" cy="422.5" r="1.7" fill="#ff7f0e"/>
<circle cx="280.5" cy="434.6" r="1.7" fill="#ff7f0e"/>
<circle cx="287.4" cy="441.2" r="1.7" fill="#ff7f0e"/>
<circle cx="295.1" cy="445.9" r="1.7" fill="#ff7f0e"/>
<circle cx="302.6" cy="451.5" r="1.7" fill="#ff7f0e"/>
<circle cx="310.4" cy="456.6" r="1.7" fill="#ff7f0e"/>
<circle cx="223.8" cy="406.6" r="1.7" fill="#1f77b4"/>
<circle cx="235.5" cy="409.5" r="1.7" fill="#1f77b4"/>
<circle cx="246.3" cy="415.4" r="1.7" fill="#1f77b4"/>
<circle cx="257.9" cy="421.1" r="1.7" fill="#1f77b4"/>
<circle cx="268.9" cy="431.8" r="1.7" fill="#1f77b4"/>
<circle cx="279.5" cy="441.2" r="1.7" fill="#1f77b4"/>
<circle cx="290.2" cy="449.6" r="1.7" fill="#1f77b4"/>
<circle cx="300.7" cy="455.8" r="1.7" fill="#1f77b4"/>
<circle cx="311.4" cy="465.5" r="1.7" fill="#1f77b4"/>
</g>
<rect x="198.9" y="371.1" width="122.5" height="109.4" fill="none" stroke="#262626" stroke-width="0.95"/>
<line x1="195.7" y1="377.2" x2="198.9" y2="377.2" stroke="#262626" stroke-width="0.95"/>
<text x="193.1" y="380.8" font-size="8.8" text-anchor="end" textLength="10.56" lengthAdjust="spacingAndGlyphs" >30</text>
<line x1="195.7" y1="413.05" x2="198.9" y2="413.05" stroke="#262626" stroke-width="0.95"/>
<text x="193.1" y="416.65" font-size="8.8" text-anchor="end" textLength="10.56" lengthAdjust="spacingAndGlyphs" >20</text>
<line x1="195.7" y1="448.9" x2="198.9" y2="448.9" stroke="#262626" stroke-width="0.95"/>
<text x="193.1" y="452.5" font-size="8.8" text-anchor="end" textLength="10.56" lengthAdjust="spacingAndGlyphs" >10</text>
<line x1="198.9" y1="480.5" x2="198.9" y2="483.7" stroke="#262626" stroke-width="0.95"/>
<text x="198.9" y="493.4" font-size="8.8" text-anchor="middle" textLength="18.48" lengthAdjust="spacingAndGlyphs" >3.00</text>
<line x1="236.8" y1="480.5" x2="236.8" y2="483.7" stroke="#262626" stroke-width="0.95"/>
<text x="236.8" y="493.4" font-size="8.8" text-anchor="middle" textLength="18.48" lengthAdjust="spacingAndGlyphs" >3.25</text>
<line x1="274.7" y1="480.5" x2="274.7" y2="483.7" stroke="#262626" stroke-width="0.95"/>
<text x="274.7" y="493.4" font-size="8.8" text-anchor="middle" textLength="18.48" lengthAdjust="spacingAndGlyphs" >3.50</text>
<line x1="312.6" y1="480.5" x2="312.6" y2="483.7" stroke="#262626" stroke-width="0.95"/>
<text x="312.6" y="493.4" font-size="8.8" text-anchor="middle" textLength="18.48" lengthAdjust="spacingAndGlyphs" >3.75</text>
<text x="260.2" y="502.9" font-size="8.8" text-anchor="middle" textLength="22.97" lengthAdjust="spacingAndGlyphs" >R [m]</text>
<rect x="202.4" y="436.7" width="52.1" height="40.3" rx="2" ry="2" fill="#ffffff" fill-opacity="0.8" stroke="#cccccc" stroke-width="0.9"/>
<line x1="204.7" y1="442.3" x2="218.7" y2="442.3" stroke="#d62728" stroke-width="1.45"/>
<line x1="210.5" y1="448.4" x2="210.5" y2="455.4" stroke="#1f77b4" stroke-width="1.2"/>
<line x1="208.2" y1="448.4" x2="212.8" y2="448.4" stroke="#1f77b4" stroke-width="1.2"/>
<line x1="208.2" y1="455.4" x2="212.8" y2="455.4" stroke="#1f77b4" stroke-width="1.2"/>
<line x1="210.5" y1="458.1" x2="210.5" y2="465.1" stroke="#ff7f0e" stroke-width="1.2"/>
<line x1="208.2" y1="458.1" x2="212.8" y2="458.1" stroke="#ff7f0e" stroke-width="1.2"/>
<line x1="208.2" y1="465.1" x2="212.8" y2="465.1" stroke="#ff7f0e" stroke-width="1.2"/>
<line x1="207" y1="471.2" x2="214" y2="471.2" stroke="#2ca02c" stroke-width="1.4"/>
<line x1="210.5" y1="467.7" x2="210.5" y2="474.7" stroke="#2ca02c" stroke-width="1.4"/>
<line x1="208.3" y1="467.7" x2="212.7" y2="467.7" stroke="#2ca02c" stroke-width="1.4"/>
<line x1="208.3" y1="474.7" x2="212.7" y2="474.7" stroke="#2ca02c" stroke-width="1.4"/>
<line x1="207" y1="469" x2="207" y2="473.4" stroke="#2ca02c" stroke-width="1.4"/>
<line x1="214" y1="469" x2="214" y2="473.4" stroke="#2ca02c" stroke-width="1.4"/>
<circle cx="210.5" cy="451.9" r="1.8" fill="#1f77b4"/>
<circle cx="210.5" cy="461.6" r="1.8" fill="#ff7f0e"/>
<text x="223" y="444.8" font-size="7.21" text-anchor="start" textLength="6.95" lengthAdjust="spacingAndGlyphs" >fit</text>
<text x="223" y="454.4" font-size="7.21" text-anchor="start" textLength="25.85" lengthAdjust="spacingAndGlyphs" >CXRS D</text>
<text x="223" y="464.1" font-size="7.21" text-anchor="start" textLength="29.88" lengthAdjust="spacingAndGlyphs" >CXRS Ne</text>
<text x="223" y="473.7" font-size="7.21" text-anchor="start" textLength="13.72" lengthAdjust="spacingAndGlyphs" >XCS</text>
<text transform="translate(176.2,426.8) rotate(-90)" x="0" y="0" font-size="9.2" text-anchor="middle" textLength="34" lengthAdjust="spacingAndGlyphs">&#937;<tspan style="stroke-width:0.06px" font-size="6.4" dy="1.9" font-style="italic">&#950;</tspan><tspan dy="-1.9"> [kHz]</tspan></text>
</svg></body></html>
